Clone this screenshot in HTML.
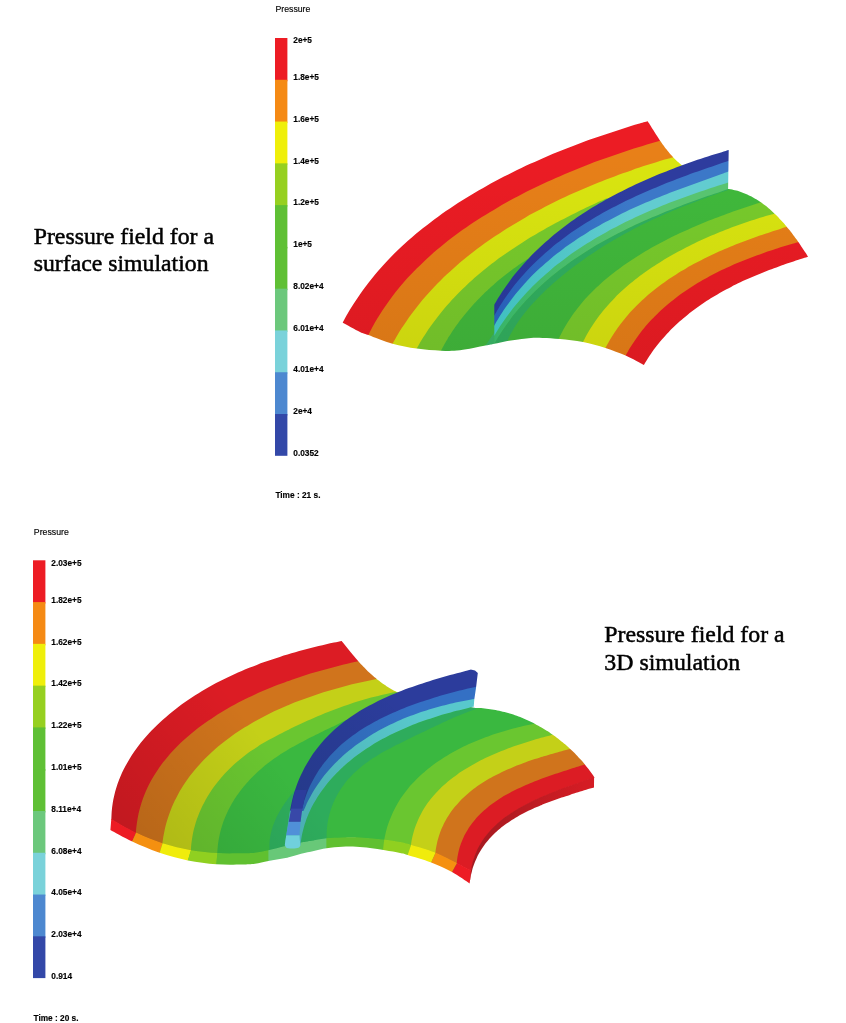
<!DOCTYPE html>
<html><head><meta charset="utf-8"><title>Pressure field</title>
<style>
html,body{margin:0;padding:0;background:#fff;}
body{width:846px;height:1023px;overflow:hidden;position:relative;}
svg{position:absolute;left:0;top:0;}
.lb{font-family:"Liberation Sans",sans-serif;font-weight:bold;font-size:8.3px;fill:#000;stroke:#000;stroke-width:0.15px;}
.tt{font-family:"Liberation Sans",sans-serif;font-size:8.75px;fill:#000;stroke:#000;stroke-width:0.15px;}
.cap{font-family:"Liberation Serif",serif;font-size:23px;fill:#000;stroke:#000;stroke-width:0.5px;}
</style></head><body>
<svg width="846" height="1023" viewBox="0 0 846 1023">
<g opacity="0.999">
<clipPath id="tfo"><path d="M342.7,322.7 C343.5,321.3 345.8,316.9 347.4,314.1 C349.0,311.3 350.7,308.5 352.4,305.8 C354.1,303.0 355.9,300.3 357.7,297.7 C359.5,295.0 361.3,292.4 363.2,289.8 C365.1,287.2 367.0,284.7 368.9,282.2 C370.9,279.6 372.9,277.2 374.9,274.7 C377.0,272.3 379.1,269.9 381.2,267.5 C383.3,265.1 385.4,262.8 387.6,260.5 C389.8,258.2 392.0,255.9 394.3,253.6 C396.5,251.4 398.8,249.2 401.1,247.0 C403.5,244.8 405.8,242.7 408.2,240.6 C410.6,238.5 413.0,236.4 415.4,234.3 C417.9,232.3 420.3,230.3 422.8,228.3 C425.3,226.3 427.8,224.3 430.4,222.4 C432.9,220.4 435.5,218.5 438.1,216.7 C440.7,214.8 443.3,212.9 445.9,211.1 C448.6,209.3 451.2,207.5 453.9,205.7 C456.6,204.0 459.3,202.2 462.0,200.5 C464.7,198.8 467.5,197.1 470.2,195.4 C473.0,193.7 475.8,192.1 478.5,190.5 C481.3,188.9 484.1,187.3 487.0,185.7 C489.8,184.1 492.6,182.6 495.5,181.0 C498.3,179.5 501.2,178.0 504.0,176.5 C506.9,175.1 509.8,173.6 512.7,172.2 C515.6,170.7 518.5,169.3 521.4,167.9 C524.3,166.6 527.3,165.2 530.2,163.8 C533.2,162.5 536.1,161.2 539.1,159.9 C542.0,158.6 545.0,157.3 548.0,156.0 C551.0,154.8 554.0,153.5 556.9,152.3 C559.9,151.1 562.9,149.9 565.9,148.7 C568.9,147.5 572.0,146.4 575.0,145.2 C578.0,144.1 581.0,142.9 584.0,141.8 C587.0,140.7 590.1,139.6 593.1,138.6 C596.1,137.5 599.2,136.5 602.2,135.4 C605.2,134.4 608.3,133.4 611.3,132.4 C614.3,131.4 617.4,130.4 620.4,129.4 C623.4,128.5 626.5,127.5 629.5,126.6 C632.5,125.6 635.5,124.7 638.6,123.8 C641.6,122.9 646.1,121.6 647.6,121.2 L647.7,121.2 C647.8,121.4 648.2,122.0 648.4,122.4 C648.7,122.8 648.9,123.2 649.2,123.6 C649.4,124.0 649.7,124.4 649.9,124.8 C650.2,125.2 650.4,125.6 650.7,126.0 C650.9,126.4 651.2,126.8 651.4,127.2 C651.7,127.6 651.9,128.0 652.2,128.4 C652.4,128.8 652.7,129.2 652.9,129.6 C653.2,130.0 653.4,130.4 653.7,130.8 C653.9,131.2 654.2,131.6 654.4,132.0 C654.7,132.4 655.0,132.8 655.2,133.2 C655.5,133.6 655.7,134.0 656.0,134.4 C656.2,134.8 656.5,135.2 656.7,135.6 C657.0,136.0 657.3,136.4 657.5,136.8 C657.8,137.2 658.0,137.6 658.3,138.0 C658.6,138.4 658.8,138.8 659.1,139.2 C659.4,139.6 659.6,140.0 659.9,140.4 C660.2,140.8 660.4,141.2 660.7,141.6 C661.0,142.0 661.2,142.4 661.5,142.7 C661.8,143.1 662.1,143.5 662.3,143.9 C662.6,144.3 662.9,144.7 663.2,145.1 C663.4,145.5 663.7,145.8 664.0,146.2 C664.3,146.6 664.6,147.0 664.9,147.4 C665.1,147.7 665.4,148.1 665.7,148.5 C666.0,148.9 666.3,149.2 666.6,149.6 C666.9,150.0 667.2,150.4 667.5,150.7 C667.8,151.1 668.1,151.5 668.4,151.8 C668.7,152.2 669.0,152.6 669.3,152.9 C669.6,153.3 669.9,153.6 670.2,154.0 C670.5,154.4 670.8,154.7 671.1,155.1 C671.5,155.4 671.8,155.8 672.1,156.1 C672.4,156.5 672.7,156.8 673.1,157.2 C673.4,157.5 673.7,157.8 674.0,158.2 C674.4,158.5 674.7,158.9 675.0,159.2 C675.4,159.5 675.7,159.9 676.1,160.2 C676.4,160.5 676.7,160.8 677.1,161.2 C677.4,161.5 677.8,161.8 678.1,162.1 C678.5,162.4 678.9,162.8 679.2,163.1 C679.6,163.4 679.9,163.7 680.3,164.0 C680.7,164.3 681.2,164.7 681.4,164.9 L681.4,164.9 L728.0,188.9 L728.0,188.9 C728.5,188.9 729.9,189.1 730.8,189.3 C731.7,189.5 732.6,189.7 733.5,189.9 C734.4,190.1 735.3,190.3 736.2,190.6 C737.1,190.8 738.0,191.1 738.9,191.3 C739.7,191.6 740.6,191.9 741.5,192.2 C742.3,192.5 743.2,192.8 744.0,193.2 C744.9,193.5 745.7,193.9 746.6,194.2 C747.4,194.6 748.2,195.0 749.0,195.4 C749.9,195.8 750.7,196.2 751.5,196.6 C752.3,197.0 753.1,197.5 753.9,197.9 C754.7,198.4 755.5,198.8 756.3,199.3 C757.0,199.8 757.8,200.3 758.6,200.8 C759.3,201.3 760.1,201.8 760.9,202.3 C761.6,202.8 762.4,203.4 763.1,203.9 C763.8,204.5 764.6,205.0 765.3,205.6 C766.0,206.2 766.8,206.7 767.5,207.3 C768.2,207.9 768.9,208.5 769.6,209.1 C770.3,209.7 771.0,210.3 771.7,211.0 C772.4,211.6 773.1,212.2 773.8,212.9 C774.5,213.5 775.1,214.2 775.8,214.8 C776.5,215.5 777.1,216.1 777.8,216.8 C778.4,217.5 779.1,218.2 779.7,218.9 C780.4,219.5 781.0,220.2 781.7,220.9 C782.3,221.6 782.9,222.3 783.6,223.1 C784.2,223.8 784.8,224.5 785.4,225.2 C786.0,225.9 786.6,226.6 787.2,227.4 C787.8,228.1 788.4,228.8 789.0,229.6 C789.6,230.3 790.2,231.1 790.8,231.8 C791.3,232.5 791.9,233.3 792.5,234.0 C793.1,234.8 793.6,235.5 794.2,236.3 C794.7,237.1 795.3,237.8 795.8,238.6 C796.4,239.3 796.9,240.1 797.5,240.8 C798.0,241.6 798.6,242.4 799.1,243.1 C799.6,243.9 800.1,244.7 800.7,245.4 C801.2,246.2 801.7,246.9 802.2,247.7 C802.7,248.5 803.2,249.2 803.7,250.0 C804.2,250.8 804.7,251.5 805.2,252.3 C805.7,253.0 806.2,253.8 806.7,254.5 C807.1,255.3 807.9,256.4 808.1,256.8 L808.1,256.8 C807.3,257.0 804.8,257.8 803.2,258.3 C801.6,258.8 800.0,259.3 798.4,259.8 C796.7,260.3 795.1,260.9 793.5,261.4 C791.9,261.9 790.2,262.5 788.6,263.0 C787.0,263.6 785.4,264.1 783.7,264.7 C782.1,265.3 780.5,265.8 778.9,266.4 C777.2,267.0 775.6,267.6 774.0,268.2 C772.4,268.8 770.7,269.4 769.1,270.0 C767.5,270.6 765.9,271.3 764.3,271.9 C762.7,272.5 761.1,273.2 759.5,273.9 C757.8,274.5 756.2,275.2 754.6,275.9 C753.0,276.5 751.5,277.2 749.9,277.9 C748.3,278.6 746.7,279.4 745.1,280.1 C743.5,280.8 742.0,281.5 740.4,282.3 C738.8,283.0 737.3,283.8 735.7,284.6 C734.2,285.3 732.6,286.1 731.1,286.9 C729.5,287.7 728.0,288.5 726.5,289.3 C724.9,290.1 723.4,291.0 721.9,291.8 C720.4,292.6 718.9,293.5 717.4,294.4 C715.9,295.2 714.4,296.1 713.0,297.0 C711.5,297.9 710.0,298.8 708.6,299.8 C707.1,300.7 705.7,301.6 704.3,302.6 C702.8,303.5 701.4,304.5 700.0,305.5 C698.6,306.4 697.2,307.4 695.8,308.5 C694.4,309.5 693.1,310.5 691.7,311.5 C690.3,312.6 689.0,313.6 687.7,314.7 C686.3,315.8 685.0,316.9 683.7,318.0 C682.4,319.1 681.1,320.2 679.8,321.3 C678.5,322.4 677.3,323.6 676.0,324.8 C674.8,325.9 673.6,327.1 672.3,328.3 C671.1,329.5 669.9,330.7 668.8,332.0 C667.6,333.2 666.4,334.5 665.3,335.7 C664.1,337.0 663.0,338.3 661.9,339.6 C660.7,340.9 659.6,342.2 658.6,343.6 C657.5,344.9 656.4,346.3 655.4,347.6 C654.4,349.0 653.3,350.4 652.3,351.8 C651.3,353.3 650.3,354.7 649.4,356.1 C648.4,357.6 647.5,359.1 646.6,360.6 C645.6,362.1 644.3,364.3 643.9,365.1 L643.9,365.1 C640.9,363.5 632.0,358.5 625.6,355.6 C619.2,352.7 612.6,350.2 605.5,347.9 C598.4,345.6 590.6,343.5 583.0,342.0 C575.4,340.5 566.7,339.7 560.0,339.0 C553.3,338.3 547.6,338.1 542.7,337.9 C537.9,337.7 534.4,337.7 530.9,337.9 C527.4,338.1 525.4,338.4 521.5,338.9 C517.6,339.4 511.8,340.1 507.3,340.9 C502.8,341.7 498.0,343.0 494.3,343.8 C490.6,344.6 491.1,344.5 485.4,345.6 C479.7,346.7 467.4,349.5 460.0,350.3 C452.6,351.1 448.2,351.0 441.0,350.7 C433.8,350.4 424.8,349.8 416.7,348.6 C408.6,347.5 400.6,346.1 392.5,343.8 C384.4,341.5 373.7,337.0 368.3,335.0 C362.9,333.0 364.2,334.1 360.0,332.0 C355.8,329.9 345.7,324.2 342.8,322.7 Z"/></clipPath>
<g clip-path="url(#tfo)"><g opacity="0.999">
<rect x="300" y="90" width="560" height="340" fill="#40BA3C"/>
<path d="M494.3,343.8 C494.9,342.7 496.8,339.5 498.1,337.3 C499.4,335.2 500.7,333.1 502.1,331.0 C503.5,328.9 504.9,326.9 506.3,324.9 C507.7,322.9 509.2,320.9 510.6,318.9 C512.1,316.9 513.6,315.0 515.2,313.1 C516.7,311.2 518.3,309.3 519.8,307.5 C521.4,305.6 523.0,303.8 524.7,302.0 C526.3,300.2 528.0,298.4 529.7,296.7 C531.4,294.9 533.1,293.2 534.8,291.5 C536.5,289.8 538.3,288.1 540.1,286.5 C541.9,284.8 543.7,283.2 545.5,281.6 C547.3,280.0 549.2,278.4 551.0,276.8 C552.9,275.3 554.8,273.8 556.7,272.2 C558.6,270.7 560.5,269.2 562.5,267.8 C564.4,266.3 566.4,264.9 568.3,263.4 C570.3,262.0 572.3,260.6 574.3,259.2 C576.3,257.9 578.4,256.5 580.4,255.2 C582.5,253.8 584.5,252.5 586.6,251.2 C588.7,249.9 590.8,248.6 592.9,247.3 C595.0,246.1 597.1,244.8 599.2,243.6 C601.3,242.4 603.5,241.2 605.6,240.0 C607.8,238.8 610.0,237.6 612.1,236.5 C614.3,235.3 616.5,234.2 618.7,233.0 C620.9,231.9 623.1,230.8 625.3,229.7 C627.6,228.6 629.8,227.5 632.0,226.5 C634.3,225.4 636.5,224.4 638.8,223.3 C641.0,222.3 643.3,221.3 645.5,220.3 C647.8,219.3 650.1,218.3 652.3,217.3 C654.6,216.3 656.9,215.4 659.2,214.4 C661.5,213.5 663.7,212.5 666.0,211.6 C668.3,210.7 670.6,209.8 672.9,208.9 C675.2,208.0 677.5,207.1 679.8,206.2 C682.1,205.3 684.4,204.5 686.7,203.6 C689.0,202.7 691.4,201.9 693.7,201.1 C696.0,200.2 698.3,199.4 700.6,198.6 C702.9,197.7 705.2,196.9 707.5,196.1 C709.8,195.3 712.1,194.5 714.4,193.7 C716.7,193.0 719.0,192.2 721.2,191.4 C723.5,190.6 727.0,189.5 728.1,189.1 L728.0,190.0 C726.9,190.4 723.6,191.5 721.3,192.3 C719.1,193.1 716.9,193.9 714.7,194.7 C712.5,195.4 710.3,196.2 708.1,197.0 C705.9,197.8 703.7,198.7 701.5,199.5 C699.3,200.3 697.1,201.1 694.9,202.0 C692.7,202.8 690.5,203.6 688.4,204.5 C686.2,205.3 684.0,206.2 681.8,207.1 C679.7,208.0 677.5,208.8 675.4,209.7 C673.2,210.6 671.1,211.5 668.9,212.5 C666.8,213.4 664.6,214.3 662.5,215.2 C660.4,216.2 658.2,217.1 656.1,218.1 C654.0,219.1 651.9,220.1 649.8,221.1 C647.7,222.1 645.6,223.1 643.5,224.1 C641.4,225.1 639.3,226.2 637.2,227.2 C635.1,228.3 633.0,229.3 631.0,230.4 C628.9,231.5 626.9,232.6 624.8,233.7 C622.8,234.9 620.7,236.0 618.7,237.2 C616.6,238.3 614.6,239.5 612.6,240.7 C610.6,241.9 608.6,243.1 606.6,244.3 C604.6,245.5 602.6,246.8 600.6,248.0 C598.6,249.3 596.6,250.6 594.7,251.9 C592.7,253.2 590.8,254.5 588.8,255.8 C586.9,257.1 585.0,258.5 583.1,259.9 C581.1,261.2 579.2,262.6 577.4,264.0 C575.5,265.4 573.6,266.8 571.7,268.3 C569.9,269.7 568.0,271.1 566.2,272.6 C564.4,274.1 562.5,275.6 560.7,277.1 C558.9,278.6 557.1,280.1 555.4,281.6 C553.6,283.2 551.8,284.7 550.1,286.3 C548.4,287.8 546.6,289.4 544.9,291.0 C543.3,292.6 541.6,294.3 539.9,295.9 C538.3,297.6 536.7,299.2 535.1,300.9 C533.5,302.6 531.9,304.4 530.4,306.1 C528.9,307.9 527.4,309.6 525.9,311.4 C524.4,313.2 523.0,315.1 521.6,316.9 C520.3,318.8 518.9,320.7 517.6,322.6 C516.3,324.6 515.1,326.5 513.9,328.5 C512.7,330.5 511.5,332.6 510.4,334.6 C509.3,336.7 507.8,339.9 507.3,341.0 Z" fill="#30B060" />
<path d="M485.2,346.0 L494.6,344.0 L494.6,332.0 Z" fill="#38B868" />
<path d="M437.3,357.8 C437.9,356.6 440.1,352.3 441.0,350.7 C441.9,349.0 442.0,348.8 442.5,347.8 C443.0,346.9 443.5,345.9 444.0,345.0 C444.6,344.0 445.1,343.1 445.6,342.2 C446.2,341.2 446.7,340.3 447.3,339.4 C447.8,338.4 448.4,337.5 449.0,336.6 C449.6,335.7 450.1,334.8 450.7,333.9 C451.3,333.0 451.9,332.0 452.5,331.1 C453.1,330.2 453.7,329.3 454.3,328.5 C454.9,327.6 455.6,326.7 456.2,325.8 C456.8,324.9 457.4,324.0 458.1,323.2 C458.7,322.3 459.4,321.4 460.0,320.6 C460.7,319.7 461.3,318.8 462.0,318.0 C462.7,317.1 463.4,316.3 464.0,315.4 C464.7,314.6 465.4,313.7 466.1,312.9 C466.8,312.1 467.5,311.2 468.2,310.4 C468.9,309.6 469.6,308.8 470.3,307.9 C471.0,307.1 471.8,306.3 472.5,305.5 C473.2,304.7 473.9,303.9 474.7,303.1 C475.4,302.3 476.2,301.5 476.9,300.7 C477.7,299.9 478.4,299.1 479.2,298.4 C479.9,297.6 480.7,296.8 481.5,296.0 C482.2,295.3 483.0,294.5 483.8,293.7 C484.6,293.0 485.3,292.2 486.1,291.5 C486.9,290.7 487.7,290.0 488.5,289.2 C489.3,288.5 490.1,287.8 490.9,287.0 C491.7,286.3 492.5,285.6 493.4,284.9 C494.2,284.1 495.0,283.4 495.8,282.7 C496.6,282.0 497.5,281.3 498.3,280.6 C499.1,279.9 500.0,279.2 500.8,278.5 C501.6,277.8 502.5,277.2 503.3,276.5 C504.2,275.8 505.0,275.1 505.9,274.5 C506.7,273.8 507.6,273.1 508.5,272.5 C509.3,271.8 510.2,271.2 511.1,270.5 C511.9,269.9 512.8,269.2 513.7,268.6 C514.5,268.0 515.4,267.3 516.3,266.7 C517.2,266.1 518.1,265.5 518.9,264.8 C519.8,264.2 520.7,263.6 521.6,263.0 C522.5,262.4 523.4,261.8 524.3,261.2 C525.2,260.6 526.5,259.8 527.0,259.5 L536.1,255.3 L541.4,250.2 L546.8,245.2 L552.3,240.4 L558.0,235.7 L563.8,231.2 L569.7,226.8 L575.7,222.5 L581.8,218.3 L588.0,214.3 L594.2,210.3 L600.6,206.5 L607.1,202.8 L613.6,199.3 L620.2,195.8 L626.8,192.4 L633.5,189.2 L640.3,186.0 L647.1,183.0 L653.9,180.0 L660.8,177.1 L667.7,174.4 L674.6,171.7 L681.6,169.1 L688.5,166.6 L695.5,164.1 L702.5,161.8 L709.4,159.5 L716.3,157.3 L723.3,155.2 L730.2,153.1 L700.0,100.0 L300.0,100.0 L300.0,420.0 L437.3,420.0 Z" fill="#78CC2C" />
<path d="M412.7,355.6 C413.4,354.4 415.5,350.7 416.7,348.6 C417.9,346.5 418.8,344.9 419.8,343.0 C420.9,341.2 422.0,339.4 423.1,337.6 C424.3,335.8 425.4,334.0 426.6,332.2 C427.7,330.5 428.9,328.7 430.1,327.0 C431.3,325.3 432.6,323.6 433.8,321.9 C435.1,320.2 436.3,318.5 437.6,316.9 C438.9,315.2 440.2,313.6 441.5,311.9 C442.9,310.3 444.2,308.7 445.6,307.1 C446.9,305.5 448.3,304.0 449.7,302.4 C451.1,300.8 452.5,299.3 454.0,297.8 C455.4,296.3 456.9,294.8 458.3,293.3 C459.8,291.8 461.3,290.3 462.8,288.8 C464.3,287.4 465.8,285.9 467.3,284.5 C468.8,283.1 470.4,281.7 472.0,280.3 C473.5,278.9 475.1,277.5 476.7,276.1 C478.3,274.7 479.9,273.4 481.5,272.0 C483.1,270.7 484.7,269.4 486.4,268.0 C488.0,266.7 489.7,265.4 491.3,264.1 C493.0,262.9 494.7,261.6 496.4,260.3 C498.0,259.1 499.7,257.8 501.5,256.6 C503.2,255.4 504.9,254.1 506.6,252.9 C508.3,251.7 510.1,250.5 511.8,249.4 C513.6,248.2 515.4,247.0 517.1,245.9 C518.9,244.7 520.7,243.5 522.5,242.4 C524.2,241.3 526.0,240.2 527.8,239.1 C529.6,237.9 531.4,236.9 533.3,235.8 C535.1,234.7 536.9,233.6 538.7,232.5 C540.6,231.5 542.4,230.4 544.2,229.4 C546.1,228.3 547.9,227.3 549.8,226.3 C551.6,225.3 553.5,224.3 555.3,223.3 C557.2,222.3 559.1,221.3 560.9,220.3 C562.8,219.3 564.7,218.3 566.5,217.4 C568.4,216.4 570.3,215.5 572.2,214.5 C574.1,213.6 575.9,212.7 577.8,211.7 C579.7,210.8 581.6,209.9 583.5,209.0 C585.4,208.1 587.3,207.2 589.1,206.3 C591.0,205.4 592.9,204.5 594.8,203.7 C596.7,202.8 598.6,201.9 600.5,201.1 C602.4,200.2 605.2,199.0 606.1,198.5 L613.6,199.3 L620.2,195.8 L626.8,192.4 L633.5,189.2 L640.3,186.0 L647.1,183.0 L653.9,180.0 L660.8,177.1 L667.7,174.4 L674.6,171.7 L681.6,169.1 L688.5,166.6 L695.5,164.1 L702.5,161.8 L709.4,159.5 L716.3,157.3 L723.3,155.2 L730.2,153.1 L700.0,100.0 L300.0,100.0 L300.0,420.0 L412.7,420.0 Z" fill="#DAE610" />
<path d="M388.5,350.8 C389.2,349.6 391.1,346.3 392.5,343.8 C393.9,341.3 395.4,338.6 396.9,336.0 C398.5,333.4 400.0,330.9 401.6,328.3 C403.2,325.8 404.9,323.4 406.6,320.9 C408.2,318.5 409.9,316.1 411.7,313.7 C413.5,311.3 415.2,309.0 417.1,306.7 C418.9,304.4 420.8,302.1 422.6,299.8 C424.5,297.6 426.5,295.4 428.4,293.2 C430.4,291.0 432.4,288.9 434.4,286.7 C436.4,284.6 438.5,282.5 440.6,280.5 C442.6,278.4 444.7,276.4 446.9,274.3 C449.0,272.3 451.2,270.4 453.4,268.4 C455.6,266.5 457.8,264.5 460.0,262.6 C462.3,260.7 464.5,258.9 466.8,257.0 C469.1,255.2 471.4,253.4 473.8,251.6 C476.1,249.8 478.5,248.0 480.8,246.3 C483.2,244.5 485.6,242.8 488.0,241.1 C490.4,239.4 492.9,237.7 495.3,236.1 C497.8,234.4 500.3,232.8 502.7,231.2 C505.2,229.6 507.7,228.0 510.3,226.5 C512.8,224.9 515.3,223.4 517.9,221.9 C520.4,220.4 523.0,218.9 525.5,217.4 C528.1,215.9 530.7,214.5 533.3,213.1 C535.9,211.6 538.5,210.2 541.2,208.9 C543.8,207.5 546.4,206.1 549.1,204.8 C551.7,203.4 554.4,202.1 557.1,200.8 C559.8,199.5 562.4,198.2 565.1,197.0 C567.8,195.7 570.5,194.5 573.2,193.3 C576.0,192.0 578.7,190.8 581.4,189.7 C584.1,188.5 586.9,187.3 589.6,186.2 C592.4,185.0 595.1,183.9 597.9,182.8 C600.6,181.7 603.4,180.6 606.1,179.5 C608.9,178.5 611.7,177.4 614.5,176.4 C617.2,175.4 620.0,174.3 622.8,173.3 C625.6,172.3 628.4,171.4 631.2,170.4 C633.9,169.4 636.7,168.5 639.5,167.6 C642.3,166.6 645.1,165.7 647.9,164.8 C650.7,163.9 653.5,163.0 656.3,162.2 C659.1,161.3 661.9,160.5 664.7,159.6 C667.5,158.8 670.4,158.0 673.1,157.2 C675.7,156.4 679.5,155.3 680.7,154.9 L700.0,100.0 L300.0,100.0 L300.0,420.0 L388.5,420.0 Z" fill="#E88018" />
<path d="M364.6,342.1 C365.2,340.9 366.9,337.6 368.3,335.0 C369.6,332.4 371.1,329.4 372.6,326.7 C374.1,324.0 375.7,321.3 377.3,318.6 C378.9,316.0 380.5,313.4 382.2,310.8 C383.9,308.2 385.6,305.7 387.4,303.2 C389.1,300.7 391.0,298.2 392.8,295.8 C394.7,293.3 396.6,290.9 398.5,288.6 C400.4,286.2 402.4,283.9 404.4,281.6 C406.4,279.3 408.5,277.0 410.6,274.8 C412.7,272.6 414.8,270.4 416.9,268.2 C419.1,266.1 421.3,264.0 423.5,261.9 C425.7,259.8 428.0,257.7 430.2,255.7 C432.5,253.6 434.8,251.6 437.2,249.6 C439.5,247.7 441.9,245.7 444.3,243.8 C446.7,241.9 449.1,240.0 451.5,238.1 C454.0,236.3 456.4,234.4 458.9,232.6 C461.4,230.8 463.9,229.0 466.5,227.3 C469.0,225.5 471.6,223.8 474.1,222.1 C476.7,220.4 479.3,218.7 481.9,217.1 C484.5,215.4 487.1,213.8 489.8,212.2 C492.4,210.6 495.1,209.0 497.8,207.4 C500.4,205.9 503.1,204.3 505.8,202.8 C508.5,201.3 511.2,199.8 514.0,198.3 C516.7,196.9 519.4,195.4 522.2,194.0 C525.0,192.6 527.7,191.2 530.5,189.8 C533.3,188.4 536.1,187.1 538.9,185.7 C541.7,184.4 544.5,183.1 547.3,181.8 C550.1,180.5 553.0,179.2 555.8,177.9 C558.7,176.7 561.5,175.5 564.4,174.2 C567.2,173.0 570.1,171.8 573.0,170.7 C575.8,169.5 578.7,168.3 581.6,167.2 C584.5,166.0 587.4,164.9 590.3,163.8 C593.1,162.7 596.0,161.6 598.9,160.6 C601.8,159.5 604.7,158.5 607.7,157.4 C610.6,156.4 613.5,155.4 616.4,154.4 C619.3,153.4 622.2,152.4 625.1,151.5 C628.0,150.5 631.0,149.6 633.9,148.6 C636.8,147.7 639.7,146.8 642.6,145.9 C645.5,145.0 648.4,144.1 651.3,143.2 C654.2,142.4 657.3,141.5 660.1,140.7 C662.8,139.9 666.5,138.8 667.7,138.4 L700.0,100.0 L300.0,100.0 L300.0,420.0 L364.6,420.0 Z" fill="#EC1C24" />
<path d="M555.2,346.0 C555.8,344.8 557.6,340.9 558.7,338.8 C559.8,336.6 560.6,334.9 561.6,332.9 C562.6,331.0 563.6,329.1 564.7,327.3 C565.8,325.4 566.9,323.6 568.0,321.8 C569.1,320.0 570.3,318.2 571.5,316.4 C572.7,314.7 574.0,312.9 575.3,311.2 C576.5,309.5 577.8,307.9 579.2,306.2 C580.5,304.5 581.8,302.9 583.2,301.3 C584.6,299.7 586.0,298.1 587.5,296.6 C588.9,295.0 590.4,293.5 591.9,292.0 C593.4,290.5 594.9,289.0 596.4,287.5 C598.0,286.1 599.6,284.6 601.1,283.2 C602.7,281.8 604.3,280.4 606.0,279.0 C607.6,277.6 609.2,276.3 610.9,275.0 C612.6,273.6 614.3,272.3 616.0,271.0 C617.7,269.7 619.4,268.5 621.1,267.2 C622.9,265.9 624.6,264.7 626.4,263.5 C628.2,262.3 629.9,261.1 631.7,259.9 C633.5,258.7 635.3,257.6 637.1,256.4 C639.0,255.3 640.8,254.1 642.6,253.0 C644.5,251.9 646.3,250.8 648.2,249.8 C650.0,248.7 651.9,247.6 653.7,246.6 C655.6,245.5 657.5,244.5 659.4,243.5 C661.3,242.5 663.2,241.5 665.1,240.5 C667.0,239.5 668.9,238.5 670.8,237.6 C672.8,236.6 674.7,235.7 676.6,234.8 C678.5,233.8 680.5,232.9 682.4,232.0 C684.4,231.1 686.3,230.2 688.3,229.4 C690.3,228.5 692.2,227.6 694.2,226.8 C696.2,225.9 698.1,225.1 700.1,224.3 C702.1,223.5 704.1,222.6 706.0,221.8 C708.0,221.0 710.0,220.2 712.0,219.5 C714.0,218.7 716.0,217.9 718.0,217.2 C720.0,216.4 722.0,215.6 724.0,214.9 C726.0,214.2 728.0,213.4 730.0,212.7 C732.0,212.0 734.0,211.3 736.1,210.6 C738.1,209.9 740.1,209.2 742.1,208.5 C744.1,207.8 746.1,207.1 748.1,206.5 C750.1,205.8 752.1,205.1 754.1,204.5 C756.2,203.8 757.9,203.2 760.2,202.5 C762.5,201.8 766.5,200.5 767.8,200.1 L850.0,185.0 L850.0,420.0 L555.2,420.0 Z" fill="#78CC2C" />
<path d="M579.3,349.1 C579.9,347.9 581.9,344.1 583.0,342.0 C584.0,339.9 584.8,338.3 585.8,336.5 C586.8,334.7 587.8,332.9 588.8,331.2 C589.9,329.4 591.0,327.7 592.1,326.0 C593.2,324.3 594.3,322.6 595.4,321.0 C596.6,319.3 597.8,317.7 599.0,316.1 C600.2,314.5 601.4,312.9 602.7,311.3 C604.0,309.8 605.2,308.2 606.6,306.7 C607.9,305.2 609.2,303.7 610.6,302.2 C611.9,300.8 613.3,299.3 614.7,297.9 C616.1,296.4 617.5,295.0 619.0,293.6 C620.4,292.3 621.9,290.9 623.4,289.5 C624.9,288.2 626.4,286.9 627.9,285.5 C629.4,284.2 631.0,282.9 632.6,281.7 C634.1,280.4 635.7,279.1 637.3,277.9 C638.9,276.7 640.5,275.5 642.2,274.3 C643.8,273.1 645.4,271.9 647.1,270.7 C648.8,269.6 650.4,268.4 652.1,267.3 C653.8,266.2 655.5,265.1 657.2,264.0 C658.9,262.9 660.7,261.8 662.4,260.7 C664.2,259.7 665.9,258.6 667.7,257.6 C669.4,256.5 671.2,255.5 673.0,254.5 C674.8,253.5 676.6,252.5 678.4,251.6 C680.1,250.6 682.0,249.6 683.8,248.7 C685.6,247.7 687.4,246.8 689.2,245.9 C691.1,245.0 692.9,244.1 694.7,243.2 C696.6,242.3 698.4,241.4 700.3,240.6 C702.1,239.7 704.0,238.9 705.9,238.0 C707.7,237.2 709.6,236.4 711.5,235.6 C713.3,234.8 715.2,234.0 717.1,233.2 C719.0,232.4 720.9,231.6 722.8,230.9 C724.7,230.1 726.6,229.4 728.5,228.7 C730.4,227.9 732.3,227.2 734.2,226.5 C736.1,225.8 738.0,225.1 739.9,224.4 C741.8,223.8 743.7,223.1 745.6,222.5 C747.5,221.8 749.4,221.2 751.4,220.6 C753.3,219.9 755.2,219.3 757.1,218.7 C759.0,218.1 760.9,217.5 762.9,217.0 C764.8,216.4 766.7,215.8 768.6,215.3 C770.5,214.7 772.1,214.3 774.4,213.7 C776.6,213.0 780.8,211.9 782.1,211.5 L850.0,185.0 L850.0,420.0 L579.3,420.0 Z" fill="#DAE610" />
<path d="M601.7,354.9 C602.3,353.8 604.4,349.9 605.5,347.9 C606.6,345.9 607.3,344.4 608.3,342.7 C609.2,341.0 610.2,339.4 611.2,337.7 C612.3,336.0 613.3,334.4 614.4,332.8 C615.4,331.2 616.5,329.6 617.6,328.0 C618.7,326.5 619.9,324.9 621.0,323.4 C622.2,321.9 623.4,320.4 624.6,318.9 C625.8,317.5 627.0,316.0 628.3,314.6 C629.5,313.1 630.8,311.7 632.1,310.3 C633.4,309.0 634.7,307.6 636.0,306.2 C637.3,304.9 638.7,303.6 640.1,302.2 C641.4,300.9 642.8,299.6 644.2,298.4 C645.6,297.1 647.0,295.9 648.5,294.6 C649.9,293.4 651.4,292.2 652.9,291.0 C654.3,289.8 655.8,288.6 657.3,287.5 C658.8,286.3 660.4,285.1 661.9,284.0 C663.4,282.9 665.0,281.8 666.5,280.7 C668.1,279.6 669.7,278.5 671.3,277.5 C672.9,276.4 674.5,275.4 676.1,274.4 C677.7,273.3 679.4,272.3 681.0,271.3 C682.6,270.3 684.3,269.4 686.0,268.4 C687.6,267.4 689.3,266.5 691.0,265.6 C692.7,264.6 694.4,263.7 696.1,262.8 C697.8,261.9 699.5,261.0 701.2,260.2 C702.9,259.3 704.6,258.4 706.4,257.6 C708.1,256.7 709.9,255.9 711.6,255.1 C713.4,254.2 715.1,253.4 716.9,252.6 C718.6,251.8 720.4,251.0 722.2,250.3 C724.0,249.5 725.7,248.7 727.5,248.0 C729.3,247.2 731.1,246.5 732.9,245.8 C734.7,245.0 736.5,244.3 738.3,243.6 C740.1,242.9 741.9,242.2 743.7,241.5 C745.5,240.8 747.3,240.2 749.1,239.5 C750.9,238.8 752.7,238.2 754.5,237.5 C756.3,236.9 758.1,236.3 759.9,235.6 C761.7,235.0 763.5,234.4 765.3,233.8 C767.1,233.1 768.9,232.5 770.7,231.9 C772.5,231.3 774.3,230.8 776.1,230.2 C777.9,229.6 779.7,229.0 781.4,228.4 C783.2,227.9 784.6,227.4 786.8,226.8 C789.0,226.1 793.1,224.8 794.4,224.4 L850.0,185.0 L850.0,420.0 L601.7,420.0 Z" fill="#E88018" />
<path d="M621.7,362.6 C622.3,361.4 624.5,357.6 625.6,355.6 C626.7,353.6 627.4,352.3 628.3,350.7 C629.2,349.1 630.2,347.5 631.2,346.0 C632.2,344.4 633.2,342.9 634.2,341.4 C635.2,339.8 636.3,338.3 637.3,336.9 C638.4,335.4 639.5,333.9 640.6,332.5 C641.7,331.1 642.8,329.6 644.0,328.3 C645.1,326.9 646.3,325.5 647.5,324.1 C648.7,322.8 649.9,321.4 651.1,320.1 C652.4,318.8 653.6,317.5 654.9,316.2 C656.1,314.9 657.4,313.7 658.7,312.4 C660.0,311.2 661.4,310.0 662.7,308.8 C664.0,307.6 665.4,306.4 666.7,305.2 C668.1,304.0 669.5,302.9 670.9,301.7 C672.3,300.6 673.7,299.5 675.1,298.4 C676.6,297.3 678.0,296.2 679.5,295.1 C680.9,294.1 682.4,293.0 683.9,292.0 C685.4,291.0 686.9,289.9 688.4,288.9 C689.9,287.9 691.4,287.0 693.0,286.0 C694.5,285.0 696.0,284.1 697.6,283.1 C699.2,282.2 700.7,281.3 702.3,280.3 C703.9,279.4 705.5,278.5 707.1,277.7 C708.7,276.8 710.3,275.9 711.9,275.1 C713.5,274.2 715.1,273.4 716.8,272.6 C718.4,271.7 720.0,270.9 721.7,270.1 C723.3,269.3 725.0,268.6 726.7,267.8 C728.3,267.0 730.0,266.3 731.7,265.5 C733.4,264.8 735.0,264.0 736.7,263.3 C738.4,262.6 740.1,261.9 741.8,261.2 C743.5,260.5 745.2,259.8 746.9,259.2 C748.6,258.5 750.3,257.8 752.0,257.2 C753.8,256.5 755.5,255.9 757.2,255.3 C758.9,254.6 760.6,254.0 762.4,253.4 C764.1,252.8 765.8,252.2 767.5,251.6 C769.3,251.0 771.0,250.5 772.7,249.9 C774.5,249.3 776.2,248.8 777.9,248.2 C779.6,247.7 781.4,247.2 783.1,246.6 C784.8,246.1 786.5,245.6 788.3,245.1 C790.0,244.6 791.7,244.1 793.4,243.6 C795.2,243.1 796.4,242.7 798.6,242.1 C800.7,241.5 805.0,240.3 806.3,240.0 L850.0,185.0 L850.0,420.0 L621.7,420.0 Z" fill="#EC1C24" />
<linearGradient id="tsh" gradientUnits="userSpaceOnUse" x1="0" y1="150" x2="0" y2="355"><stop offset="0" stop-color="#200800" stop-opacity="0"/><stop offset="1" stop-color="#200800" stop-opacity="0.08"/></linearGradient>
<rect x="300" y="90" width="560" height="340" fill="url(#tsh)"/>
</g></g>
<clipPath id="tbl"><path d="M494.3,304.8 C494.9,303.7 496.8,300.5 498.0,298.3 C499.3,296.2 500.7,294.1 502.0,292.0 C503.4,290.0 504.8,287.9 506.2,285.9 C507.6,283.9 509.1,281.9 510.5,279.9 C512.0,277.9 513.5,276.0 515.0,274.1 C516.6,272.2 518.1,270.3 519.7,268.4 C521.3,266.5 522.9,264.7 524.5,262.9 C526.2,261.1 527.8,259.3 529.5,257.5 C531.2,255.7 532.9,254.0 534.6,252.3 C536.4,250.6 538.1,248.9 539.9,247.2 C541.7,245.5 543.5,243.9 545.3,242.2 C547.1,240.6 549.0,239.0 550.8,237.4 C552.7,235.8 554.6,234.3 556.5,232.7 C558.4,231.2 560.3,229.7 562.3,228.2 C564.2,226.7 566.2,225.2 568.2,223.8 C570.1,222.3 572.1,220.9 574.2,219.5 C576.2,218.1 578.2,216.7 580.3,215.3 C582.3,213.9 584.4,212.6 586.5,211.3 C588.5,209.9 590.6,208.6 592.7,207.3 C594.8,206.1 597.0,204.8 599.1,203.5 C601.2,202.3 603.4,201.1 605.6,199.8 C607.7,198.6 609.9,197.4 612.1,196.3 C614.3,195.1 616.5,193.9 618.7,192.8 C620.9,191.7 623.1,190.5 625.3,189.4 C627.5,188.3 629.8,187.2 632.0,186.2 C634.3,185.1 636.5,184.1 638.8,183.0 C641.0,182.0 643.3,181.0 645.6,180.0 C647.9,179.0 650.1,178.0 652.4,177.0 C654.7,176.0 657.0,175.1 659.3,174.1 C661.6,173.2 663.9,172.3 666.2,171.4 C668.5,170.4 670.8,169.6 673.1,168.7 C675.4,167.8 677.8,166.9 680.1,166.1 C682.4,165.2 684.7,164.4 687.0,163.6 C689.4,162.7 691.7,161.9 694.0,161.1 C696.3,160.3 698.6,159.5 701.0,158.8 C703.3,158.0 705.6,157.2 707.9,156.5 C710.2,155.7 712.5,155.0 714.8,154.3 C717.2,153.6 719.5,152.9 721.8,152.2 C724.1,151.5 727.5,150.4 728.7,150.1 L728.7,150.1 L728.1,189.1 L728.1,189.1 C727.0,189.5 723.5,190.6 721.2,191.4 C719.0,192.2 716.7,193.0 714.4,193.7 C712.1,194.5 709.8,195.3 707.5,196.1 C705.2,196.9 702.9,197.7 700.6,198.6 C698.3,199.4 696.0,200.2 693.7,201.1 C691.4,201.9 689.0,202.7 686.7,203.6 C684.4,204.5 682.1,205.3 679.8,206.2 C677.5,207.1 675.2,208.0 672.9,208.9 C670.6,209.8 668.3,210.7 666.0,211.6 C663.7,212.5 661.5,213.5 659.2,214.4 C656.9,215.4 654.6,216.3 652.3,217.3 C650.1,218.3 647.8,219.3 645.5,220.3 C643.3,221.3 641.0,222.3 638.8,223.3 C636.5,224.4 634.3,225.4 632.0,226.5 C629.8,227.5 627.6,228.6 625.3,229.7 C623.1,230.8 620.9,231.9 618.7,233.0 C616.5,234.2 614.3,235.3 612.1,236.5 C610.0,237.6 607.8,238.8 605.6,240.0 C603.5,241.2 601.3,242.4 599.2,243.6 C597.1,244.8 595.0,246.1 592.9,247.3 C590.8,248.6 588.7,249.9 586.6,251.2 C584.5,252.5 582.5,253.8 580.4,255.2 C578.4,256.5 576.3,257.9 574.3,259.2 C572.3,260.6 570.3,262.0 568.3,263.4 C566.4,264.9 564.4,266.3 562.5,267.8 C560.5,269.2 558.6,270.7 556.7,272.2 C554.8,273.8 552.9,275.3 551.0,276.8 C549.2,278.4 547.3,280.0 545.5,281.6 C543.7,283.2 541.9,284.8 540.1,286.5 C538.3,288.1 536.5,289.8 534.8,291.5 C533.1,293.2 531.4,294.9 529.7,296.7 C528.0,298.4 526.3,300.2 524.7,302.0 C523.0,303.8 521.4,305.6 519.8,307.5 C518.3,309.3 516.7,311.2 515.2,313.1 C513.6,315.0 512.1,316.9 510.6,318.9 C509.2,320.9 507.7,322.9 506.3,324.9 C504.9,326.9 503.5,328.9 502.1,331.0 C500.7,333.1 499.4,335.2 498.1,337.3 C496.8,339.5 494.9,342.7 494.3,343.8 Z"/></clipPath>
<g clip-path="url(#tbl)"><g opacity="0.999">
<linearGradient id="tg_t" gradientUnits="userSpaceOnUse" x1="496" y1="0" x2="630" y2="0"><stop offset="0" stop-color="#38B468"/><stop offset="1" stop-color="#58C470"/></linearGradient>
<linearGradient id="tg_c" gradientUnits="userSpaceOnUse" x1="496" y1="0" x2="630" y2="0"><stop offset="0" stop-color="#40C0C0"/><stop offset="1" stop-color="#62CCD0"/></linearGradient>
<linearGradient id="tg_b" gradientUnits="userSpaceOnUse" x1="496" y1="0" x2="630" y2="0"><stop offset="0" stop-color="#2860B8"/><stop offset="1" stop-color="#3C78C8"/></linearGradient>
<linearGradient id="tg_db" gradientUnits="userSpaceOnUse" x1="496" y1="0" x2="630" y2="0"><stop offset="0" stop-color="#283898"/><stop offset="1" stop-color="#2E3C9E"/></linearGradient>
<rect x="470" y="100" width="300" height="300" fill="url(#tg_t)"/>
<path d="M489.1,344.2 C489.9,342.7 492.8,338.1 494.3,335.6 C495.8,333.1 496.9,331.3 498.2,329.2 C499.5,327.1 500.9,325.1 502.3,323.0 C503.7,321.0 505.1,318.9 506.5,316.9 C508.0,315.0 509.5,313.0 511.0,311.0 C512.4,309.1 514.0,307.2 515.5,305.3 C517.1,303.4 518.6,301.5 520.2,299.7 C521.8,297.9 523.5,296.1 525.1,294.3 C526.8,292.5 528.4,290.7 530.1,289.0 C531.8,287.2 533.5,285.5 535.3,283.8 C537.0,282.1 538.8,280.5 540.6,278.8 C542.3,277.2 544.1,275.6 546.0,274.0 C547.8,272.4 549.6,270.8 551.5,269.2 C553.3,267.7 555.2,266.2 557.1,264.6 C559.0,263.1 560.9,261.6 562.9,260.2 C564.8,258.7 566.8,257.3 568.7,255.8 C570.7,254.4 572.7,253.0 574.7,251.6 C576.7,250.3 578.7,248.9 580.8,247.6 C582.8,246.2 584.8,244.9 586.9,243.6 C589.0,242.3 591.1,241.0 593.1,239.7 C595.2,238.5 597.3,237.2 599.5,236.0 C601.6,234.8 603.7,233.6 605.9,232.4 C608.0,231.2 610.1,230.0 612.3,228.8 C614.5,227.7 616.7,226.6 618.8,225.4 C621.0,224.3 623.2,223.2 625.4,222.1 C627.6,221.0 629.8,220.0 632.1,218.9 C634.3,217.9 636.5,216.8 638.8,215.8 C641.0,214.8 643.3,213.8 645.5,212.8 C647.8,211.8 650.0,210.8 652.3,209.8 C654.6,208.9 656.8,207.9 659.1,207.0 C661.4,206.0 663.7,205.1 665.9,204.2 C668.2,203.3 670.5,202.4 672.8,201.5 C675.1,200.6 677.4,199.8 679.7,198.9 C682.0,198.1 684.3,197.2 686.6,196.4 C688.9,195.6 691.2,194.7 693.5,193.9 C695.8,193.1 698.2,192.3 700.5,191.5 C702.8,190.8 705.1,190.0 707.4,189.2 C709.7,188.5 712.0,187.7 714.3,187.0 C716.6,186.2 718.9,185.5 721.2,184.8 C723.5,184.1 725.4,183.5 728.1,182.6 C730.8,181.8 736.1,180.2 737.7,179.7 L737.7,100.0 L470.0,100.0 L470.0,344.2 Z" fill="url(#tg_c)" />
<path d="M489.3,334.2 C490.1,332.7 492.9,328.0 494.3,325.5 C495.8,323.0 496.8,321.2 498.1,319.1 C499.3,316.9 500.7,314.8 502.0,312.8 C503.4,310.7 504.7,308.7 506.2,306.6 C507.6,304.6 509.0,302.6 510.5,300.7 C512.0,298.7 513.5,296.8 515.0,294.8 C516.5,292.9 518.1,291.0 519.7,289.2 C521.3,287.3 522.9,285.5 524.5,283.7 C526.2,281.9 527.8,280.1 529.5,278.3 C531.2,276.6 533.0,274.8 534.7,273.1 C536.4,271.4 538.2,269.8 540.0,268.1 C541.8,266.4 543.6,264.8 545.4,263.2 C547.3,261.6 549.1,260.0 551.0,258.4 C552.9,256.9 554.8,255.4 556.7,253.8 C558.6,252.3 560.6,250.8 562.5,249.4 C564.5,247.9 566.5,246.5 568.5,245.1 C570.4,243.6 572.5,242.2 574.5,240.9 C576.5,239.5 578.5,238.1 580.6,236.8 C582.7,235.5 584.7,234.2 586.8,232.9 C588.9,231.6 591.0,230.3 593.1,229.1 C595.2,227.8 597.4,226.6 599.5,225.4 C601.6,224.2 603.8,223.0 606.0,221.8 C608.1,220.7 610.3,219.5 612.5,218.4 C614.7,217.2 616.9,216.1 619.1,215.0 C621.3,213.9 623.5,212.9 625.7,211.8 C627.9,210.7 630.2,209.7 632.4,208.6 C634.7,207.6 636.9,206.6 639.2,205.6 C641.4,204.6 643.7,203.6 645.9,202.6 C648.2,201.7 650.5,200.7 652.7,199.8 C655.0,198.8 657.3,197.9 659.6,197.0 C661.9,196.1 664.2,195.2 666.5,194.3 C668.7,193.4 671.0,192.5 673.3,191.6 C675.6,190.7 677.9,189.8 680.2,189.0 C682.5,188.1 684.8,187.3 687.1,186.4 C689.4,185.5 691.7,184.7 694.0,183.9 C696.3,183.0 698.6,182.2 700.9,181.4 C703.2,180.5 705.5,179.7 707.8,178.9 C710.1,178.0 712.4,177.2 714.7,176.4 C717.0,175.6 719.3,174.7 721.6,173.9 C723.8,173.1 725.7,172.4 728.4,171.4 C731.1,170.4 736.2,168.6 737.8,168.0 L737.8,100.0 L470.0,100.0 L470.0,334.2 Z" fill="url(#tg_b)" />
<path d="M489.3,324.2 C490.1,322.8 492.8,318.1 494.3,315.5 C495.8,313.0 496.8,311.2 498.1,309.0 C499.3,306.9 500.7,304.7 502.0,302.7 C503.4,300.6 504.7,298.5 506.2,296.5 C507.6,294.4 509.0,292.4 510.5,290.5 C511.9,288.5 513.4,286.6 515.0,284.6 C516.5,282.7 518.1,280.8 519.6,279.0 C521.2,277.1 522.8,275.3 524.5,273.5 C526.1,271.7 527.8,269.9 529.5,268.1 C531.1,266.4 532.9,264.6 534.6,262.9 C536.3,261.2 538.1,259.5 539.9,257.9 C541.7,256.2 543.5,254.6 545.3,253.0 C547.1,251.4 549.0,249.8 550.9,248.2 C552.7,246.7 554.6,245.1 556.5,243.6 C558.4,242.1 560.4,240.6 562.3,239.2 C564.3,237.7 566.3,236.2 568.2,234.8 C570.2,233.4 572.2,232.0 574.3,230.6 C576.3,229.2 578.3,227.9 580.4,226.5 C582.4,225.2 584.5,223.9 586.6,222.6 C588.7,221.3 590.8,220.0 592.9,218.7 C595.0,217.4 597.2,216.2 599.3,215.0 C601.5,213.7 603.6,212.5 605.8,211.3 C608.0,210.2 610.1,209.0 612.3,207.8 C614.5,206.7 616.7,205.5 618.9,204.4 C621.2,203.3 623.4,202.2 625.6,201.1 C627.8,200.0 630.1,198.9 632.3,197.9 C634.6,196.8 636.8,195.8 639.1,194.8 C641.4,193.7 643.6,192.7 645.9,191.7 C648.2,190.7 650.5,189.7 652.8,188.8 C655.1,187.8 657.3,186.8 659.6,185.9 C661.9,185.0 664.2,184.0 666.5,183.1 C668.8,182.2 671.2,181.3 673.5,180.4 C675.8,179.5 678.1,178.6 680.4,177.7 C682.7,176.9 685.0,176.0 687.3,175.2 C689.6,174.3 691.9,173.5 694.3,172.6 C696.6,171.8 698.9,171.0 701.2,170.2 C703.5,169.4 705.8,168.6 708.1,167.8 C710.4,167.0 712.7,166.2 715.0,165.4 C717.3,164.6 719.6,163.9 721.9,163.1 C724.1,162.3 726.0,161.7 728.7,160.8 C731.4,159.9 736.6,158.2 738.2,157.7 L738.2,100.0 L470.0,100.0 L470.0,324.2 Z" fill="url(#tg_db)" />
</g></g>
<defs><linearGradient id="shade" gradientUnits="userSpaceOnUse" x1="250" y1="720" x2="110" y2="830">
<stop offset="0" stop-color="#000" stop-opacity="0"/><stop offset="1" stop-color="#000" stop-opacity="0.13"/></linearGradient></defs>
<clipPath id="bfo"><path d="M111.3,819.7 C111.4,818.4 111.5,814.2 111.7,811.4 C111.9,808.7 112.3,805.9 112.7,803.3 C113.1,800.6 113.6,798.0 114.3,795.3 C114.9,792.7 115.6,790.2 116.4,787.6 C117.1,785.1 118.0,782.6 119.0,780.1 C119.9,777.7 120.9,775.2 122.0,772.8 C123.1,770.5 124.3,768.1 125.6,765.8 C126.8,763.4 128.1,761.2 129.5,758.9 C130.9,756.7 132.3,754.4 133.8,752.3 C135.3,750.1 136.9,747.9 138.5,745.8 C140.1,743.7 141.8,741.6 143.5,739.6 C145.2,737.6 147.0,735.6 148.8,733.6 C150.6,731.6 152.5,729.7 154.4,727.8 C156.2,725.9 158.2,724.0 160.1,722.2 C162.1,720.4 164.1,718.6 166.1,716.9 C168.2,715.1 170.2,713.4 172.3,711.7 C174.4,710.0 176.5,708.4 178.6,706.8 C180.8,705.2 182.9,703.6 185.1,702.1 C187.3,700.5 189.5,699.0 191.8,697.5 C194.0,696.0 196.3,694.6 198.6,693.2 C200.9,691.8 203.2,690.4 205.5,689.0 C207.8,687.7 210.2,686.4 212.5,685.1 C214.9,683.8 217.3,682.5 219.7,681.3 C222.1,680.1 224.5,678.9 226.9,677.7 C229.4,676.5 231.8,675.4 234.3,674.2 C236.8,673.1 239.2,672.0 241.7,671.0 C244.2,669.9 246.7,668.9 249.2,667.8 C251.7,666.8 254.3,665.8 256.8,664.9 C259.3,663.9 261.9,663.0 264.4,662.1 C267.0,661.2 269.5,660.3 272.1,659.4 C274.7,658.5 277.2,657.7 279.8,656.9 C282.4,656.0 285.0,655.2 287.6,654.5 C290.1,653.7 292.7,652.9 295.3,652.2 C297.9,651.4 300.5,650.7 303.1,650.0 C305.7,649.3 308.2,648.7 310.8,648.0 C313.4,647.3 316.0,646.7 318.6,646.1 C321.2,645.5 323.7,644.9 326.3,644.3 C328.9,643.7 331.4,643.1 334.0,642.6 C336.5,642.0 340.4,641.2 341.6,640.9 L341.7,641.0 C341.9,641.3 342.5,642.0 342.9,642.5 C343.3,643.0 343.7,643.5 344.1,644.0 C344.5,644.6 344.9,645.1 345.3,645.6 C345.7,646.1 346.1,646.6 346.5,647.1 C346.9,647.6 347.3,648.1 347.7,648.6 C348.1,649.1 348.5,649.6 348.9,650.1 C349.3,650.6 349.7,651.1 350.1,651.6 C350.5,652.1 350.9,652.6 351.4,653.1 C351.8,653.6 352.2,654.1 352.6,654.6 C353.0,655.1 353.4,655.6 353.9,656.1 C354.3,656.6 354.7,657.1 355.1,657.6 C355.5,658.1 356.0,658.6 356.4,659.1 C356.8,659.5 357.3,660.0 357.7,660.5 C358.1,661.0 358.5,661.5 359.0,662.0 C359.4,662.4 359.9,662.9 360.3,663.4 C360.7,663.9 361.2,664.4 361.6,664.8 C362.1,665.3 362.5,665.8 363.0,666.2 C363.4,666.7 363.9,667.2 364.3,667.6 C364.8,668.1 365.2,668.5 365.7,669.0 C366.1,669.5 366.6,669.9 367.1,670.4 C367.5,670.8 368.0,671.3 368.4,671.7 C368.9,672.2 369.4,672.6 369.9,673.0 C370.3,673.5 370.8,673.9 371.3,674.3 C371.8,674.8 372.2,675.2 372.7,675.6 C373.2,676.1 373.7,676.5 374.2,676.9 C374.7,677.3 375.2,677.7 375.7,678.1 C376.2,678.6 376.7,679.0 377.2,679.4 C377.7,679.8 378.2,680.2 378.7,680.6 C379.2,681.0 379.7,681.4 380.2,681.7 C380.7,682.1 381.2,682.5 381.8,682.9 C382.3,683.3 382.8,683.7 383.3,684.0 C383.9,684.4 384.4,684.8 384.9,685.1 C385.5,685.5 386.0,685.8 386.5,686.2 C387.1,686.5 387.6,686.9 388.2,687.2 C388.7,687.6 389.3,687.9 389.8,688.3 C390.4,688.6 391.0,688.9 391.5,689.2 C392.1,689.6 392.7,689.9 393.2,690.2 C393.8,690.5 394.4,690.8 395.0,691.1 C395.5,691.4 396.4,691.8 396.7,692.0 L396.7,692.0 L475.5,707.9 L475.5,707.9 C476.1,707.9 478.0,708.0 479.2,708.1 C480.4,708.1 481.7,708.2 482.9,708.3 C484.1,708.4 485.3,708.5 486.5,708.7 C487.8,708.8 489.0,709.0 490.2,709.2 C491.4,709.3 492.6,709.5 493.8,709.7 C495.0,709.9 496.2,710.2 497.4,710.4 C498.6,710.6 499.8,710.9 501.0,711.2 C502.2,711.5 503.4,711.7 504.5,712.0 C505.7,712.4 506.9,712.7 508.1,713.0 C509.2,713.3 510.4,713.7 511.6,714.1 C512.7,714.4 513.9,714.8 515.0,715.2 C516.2,715.6 517.3,716.0 518.5,716.5 C519.6,716.9 520.7,717.3 521.9,717.8 C523.0,718.2 524.1,718.7 525.2,719.2 C526.4,719.7 527.5,720.2 528.6,720.7 C529.7,721.2 530.8,721.7 531.9,722.3 C533.0,722.8 534.0,723.4 535.1,723.9 C536.2,724.5 537.3,725.1 538.4,725.7 C539.4,726.3 540.5,726.9 541.5,727.5 C542.6,728.1 543.6,728.7 544.7,729.4 C545.7,730.0 546.7,730.7 547.8,731.3 C548.8,732.0 549.8,732.7 550.8,733.4 C551.8,734.1 552.8,734.8 553.8,735.5 C554.8,736.2 555.8,736.9 556.8,737.7 C557.8,738.4 558.7,739.1 559.7,739.9 C560.7,740.7 561.6,741.4 562.6,742.2 C563.5,743.0 564.4,743.8 565.4,744.6 C566.3,745.4 567.2,746.2 568.1,747.0 C569.0,747.8 569.9,748.7 570.8,749.5 C571.7,750.4 572.6,751.2 573.5,752.1 C574.4,752.9 575.2,753.8 576.1,754.7 C576.9,755.6 577.8,756.5 578.6,757.4 C579.4,758.3 580.3,759.2 581.1,760.1 C581.9,761.0 582.7,761.9 583.5,762.8 C584.3,763.8 585.1,764.7 585.8,765.7 C586.6,766.6 587.4,767.6 588.1,768.5 C588.9,769.5 589.6,770.5 590.3,771.4 C591.1,772.4 591.8,773.4 592.5,774.4 C593.2,775.4 594.2,776.9 594.6,777.4 L594.6,777.4 C594.0,777.6 592.2,778.3 590.9,778.8 C589.7,779.2 588.5,779.7 587.2,780.1 C586.0,780.6 584.7,781.0 583.5,781.5 C582.2,781.9 580.9,782.4 579.6,782.9 C578.4,783.3 577.1,783.8 575.8,784.3 C574.5,784.7 573.2,785.2 571.9,785.7 C570.5,786.2 569.2,786.6 567.9,787.1 C566.6,787.6 565.2,788.1 563.9,788.6 C562.6,789.1 561.2,789.6 559.9,790.1 C558.6,790.6 557.2,791.1 555.9,791.7 C554.6,792.2 553.2,792.7 551.9,793.3 C550.5,793.8 549.2,794.3 547.9,794.9 C546.5,795.5 545.2,796.0 543.9,796.6 C542.6,797.2 541.2,797.7 539.9,798.3 C538.6,798.9 537.3,799.5 536.0,800.1 C534.7,800.7 533.4,801.4 532.1,802.0 C530.8,802.6 529.5,803.3 528.2,803.9 C526.9,804.6 525.7,805.2 524.4,805.9 C523.1,806.6 521.9,807.3 520.7,808.0 C519.4,808.7 518.2,809.4 517.0,810.2 C515.8,810.9 514.6,811.6 513.4,812.4 C512.2,813.1 511.0,813.9 509.9,814.7 C508.7,815.5 507.6,816.3 506.5,817.1 C505.4,817.9 504.2,818.8 503.2,819.6 C502.1,820.5 501.0,821.3 500.0,822.2 C498.9,823.1 497.9,824.0 496.9,824.9 C495.9,825.9 494.9,826.8 493.9,827.7 C493.0,828.7 492.0,829.7 491.1,830.7 C490.2,831.7 489.3,832.7 488.5,833.7 C487.6,834.7 486.7,835.8 485.9,836.9 C485.1,837.9 484.3,839.0 483.6,840.1 C482.8,841.2 482.1,842.4 481.4,843.5 C480.7,844.7 480.0,845.9 479.4,847.1 C478.7,848.3 478.1,849.5 477.5,850.7 C477.0,852.0 476.4,853.3 475.9,854.5 C475.4,855.8 474.9,857.1 474.5,858.5 C474.0,859.8 473.6,861.2 473.2,862.6 C472.9,864.0 472.5,865.4 472.2,866.8 C471.9,868.3 471.6,870.5 471.4,871.2 L471.5,871.2 C469.0,869.9 462.8,866.6 456.7,863.6 C450.6,860.6 442.6,856.2 435.0,853.2 C427.4,850.2 417.1,847.4 411.3,845.7 C405.5,844.0 404.4,843.7 400.0,842.8 C395.6,841.9 390.0,841.1 385.0,840.5 C380.0,839.9 374.8,839.3 370.0,838.9 C365.2,838.5 361.0,838.0 356.4,837.9 C351.8,837.8 347.2,838.0 342.2,838.2 C337.2,838.4 331.3,838.5 326.6,839.0 C321.9,839.5 318.1,840.4 313.8,841.1 C309.6,841.8 305.8,842.3 301.1,843.2 C296.4,844.1 290.9,845.4 285.5,846.7 C280.1,848.0 273.5,849.9 268.4,851.0 C263.3,852.1 259.4,853.0 255.0,853.5 C250.6,854.0 248.1,854.0 241.8,854.0 C235.5,854.0 225.8,854.3 217.3,853.8 C208.8,853.3 200.0,852.5 190.8,850.9 C181.7,849.2 171.6,846.8 162.4,843.9 C153.2,841.0 144.4,837.3 135.9,833.3 C127.4,829.3 115.4,822.0 111.3,819.7 Z"/></clipPath>
<g clip-path="url(#bfo)"><g opacity="0.999">
<rect x="90" y="620" width="560" height="290" fill="#3AB840"/>
<path d="M295.4,789.7 C295.2,789.9 294.7,790.6 294.3,791.0 C293.9,791.5 293.5,791.9 293.1,792.4 C292.8,792.8 292.4,793.3 292.0,793.7 C291.6,794.2 291.3,794.6 290.9,795.1 C290.5,795.5 290.2,796.0 289.8,796.5 C289.5,796.9 289.1,797.4 288.7,797.8 C288.4,798.3 288.0,798.8 287.7,799.2 C287.3,799.7 287.0,800.2 286.6,800.7 C286.3,801.1 285.9,801.6 285.6,802.1 C285.3,802.6 284.9,803.1 284.6,803.5 C284.3,804.0 283.9,804.5 283.6,805.0 C283.3,805.5 283.0,806.0 282.6,806.5 C282.3,806.9 282.0,807.4 281.7,807.9 C281.4,808.4 281.1,808.9 280.8,809.4 C280.5,809.9 280.2,810.4 279.9,810.9 C279.6,811.4 279.3,812.0 279.0,812.5 C278.8,813.0 278.5,813.5 278.2,814.0 C277.9,814.5 277.7,815.0 277.4,815.5 C277.1,816.1 276.9,816.6 276.6,817.1 C276.4,817.6 276.1,818.1 275.9,818.7 C275.6,819.2 275.4,819.7 275.2,820.3 C274.9,820.8 274.7,821.3 274.5,821.9 C274.3,822.4 274.1,822.9 273.9,823.5 C273.7,824.0 273.5,824.5 273.3,825.1 C273.1,825.6 272.9,826.2 272.7,826.7 C272.5,827.3 272.3,827.8 272.2,828.4 C272.0,828.9 271.8,829.5 271.7,830.0 C271.5,830.6 271.4,831.2 271.3,831.7 C271.1,832.3 271.0,832.8 270.9,833.4 C270.7,834.0 270.6,834.5 270.5,835.1 C270.4,835.7 270.3,836.3 270.2,836.8 C270.1,837.4 270.0,838.0 269.9,838.6 C269.9,839.1 269.8,839.7 269.7,840.3 C269.7,840.9 269.6,841.5 269.6,842.0 C269.5,842.6 269.5,843.2 269.4,843.8 C269.4,844.4 269.4,845.0 269.4,845.6 C269.4,846.2 269.4,846.8 269.4,847.4 C269.4,848.0 269.4,848.6 269.4,849.2 C269.4,849.8 269.5,850.7 269.5,851.0 L269.5,851.0 L269.5,870.0 L326.6,870.0 L326.6,839.0 C326.6,838.1 326.6,835.2 326.6,833.3 C326.7,831.4 326.8,829.5 327.0,827.7 C327.2,825.8 327.4,824.0 327.7,822.2 C328.0,820.4 328.4,818.6 328.8,816.8 C329.2,815.0 329.7,813.3 330.2,811.5 C330.7,809.8 331.3,808.1 331.9,806.4 C332.5,804.7 333.2,803.1 334.0,801.5 C334.7,799.8 335.5,798.2 336.3,796.7 C337.1,795.1 338.0,793.5 338.9,792.0 C339.8,790.5 340.8,789.0 341.8,787.5 C342.8,786.1 343.9,784.6 344.9,783.2 C346.0,781.8 347.2,780.5 348.3,779.1 C349.5,777.8 350.7,776.5 351.9,775.2 C353.2,773.9 354.4,772.7 355.8,771.5 C357.1,770.2 358.4,769.1 359.8,767.9 C361.1,766.8 362.5,765.7 364.0,764.6 C365.4,763.5 366.8,762.4 368.3,761.4 C369.8,760.3 371.3,759.3 372.8,758.3 C374.3,757.4 375.9,756.4 377.4,755.4 C379.0,754.5 380.5,753.6 382.1,752.6 C383.7,751.7 385.3,750.8 386.9,750.0 C388.5,749.1 390.2,748.2 391.8,747.4 C393.4,746.5 395.1,745.7 396.7,744.8 C398.4,744.0 400.0,743.2 401.7,742.4 C403.3,741.6 405.0,740.7 406.6,739.9 C408.3,739.1 409.9,738.3 411.6,737.5 C413.2,736.7 414.9,735.9 416.5,735.1 C418.1,734.3 419.8,733.5 421.4,732.7 C423.1,732.0 424.7,731.2 426.3,730.4 C427.9,729.6 429.6,728.8 431.2,728.0 C432.8,727.2 434.4,726.5 436.1,725.7 C437.7,724.9 439.3,724.2 441.0,723.4 C442.6,722.7 444.2,721.9 445.9,721.2 C447.5,720.4 449.1,719.7 450.8,719.0 C452.4,718.3 454.1,717.5 455.7,716.8 C457.4,716.1 459.1,715.4 460.7,714.8 C462.4,714.1 464.1,713.4 465.8,712.8 C467.4,712.1 469.1,711.5 470.8,710.8 C472.6,710.2 475.1,709.3 476.0,709.0 L474.1,706.6 C473.1,706.8 470.2,707.5 468.3,707.9 C466.3,708.4 464.4,708.9 462.4,709.4 C460.5,709.8 458.5,710.3 456.5,710.8 C454.6,711.3 452.6,711.9 450.7,712.4 C448.7,712.9 446.8,713.5 444.8,714.1 C442.9,714.6 440.9,715.2 439.0,715.8 C437.0,716.4 435.1,717.0 433.1,717.7 C431.2,718.3 429.2,718.9 427.3,719.6 C425.4,720.3 423.4,720.9 421.5,721.6 C419.6,722.3 417.6,723.0 415.7,723.8 C413.8,724.5 411.9,725.3 410.0,726.0 C408.1,726.8 406.2,727.6 404.4,728.4 C402.5,729.2 400.6,730.0 398.7,730.9 C396.9,731.7 395.0,732.6 393.2,733.5 C391.4,734.4 389.5,735.3 387.7,736.2 C385.9,737.2 384.1,738.1 382.3,739.1 C380.5,740.1 378.8,741.1 377.0,742.1 C375.2,743.1 373.5,744.2 371.8,745.2 C370.1,746.3 368.3,747.4 366.7,748.5 C365.0,749.6 363.3,750.8 361.6,751.9 C360.0,753.1 358.3,754.3 356.7,755.5 C355.1,756.7 353.5,758.0 351.9,759.2 C350.4,760.5 348.8,761.8 347.3,763.1 C345.7,764.4 344.2,765.8 342.7,767.2 C341.2,768.5 339.8,769.9 338.3,771.4 C336.9,772.8 335.5,774.2 334.1,775.7 C332.7,777.2 331.3,778.7 330.0,780.3 C328.7,781.8 327.4,783.4 326.1,784.9 C324.9,786.5 323.1,789.0 322.5,789.8 Z" fill="#2EAC5C" />
<path d="M216.6,865.8 C216.7,863.8 217.1,856.7 217.3,853.8 C217.4,851.0 217.4,850.3 217.6,848.6 C217.7,846.9 217.9,845.2 218.1,843.5 C218.3,841.8 218.6,840.1 218.9,838.4 C219.2,836.7 219.6,835.1 219.9,833.4 C220.3,831.8 220.8,830.2 221.2,828.5 C221.7,826.9 222.2,825.3 222.7,823.8 C223.2,822.2 223.8,820.6 224.4,819.1 C225.0,817.5 225.7,816.0 226.3,814.5 C227.0,813.0 227.7,811.5 228.4,810.0 C229.2,808.5 230.0,807.0 230.8,805.6 C231.6,804.1 232.4,802.7 233.3,801.3 C234.1,799.9 235.0,798.5 235.9,797.1 C236.8,795.7 237.8,794.4 238.8,793.0 C239.7,791.7 240.7,790.3 241.8,789.0 C242.8,787.7 243.8,786.4 244.9,785.2 C246.0,783.9 247.1,782.6 248.2,781.4 C249.3,780.2 250.5,779.0 251.6,777.8 C252.8,776.6 254.0,775.4 255.2,774.2 C256.4,773.1 257.6,771.9 258.9,770.8 C260.1,769.7 261.4,768.6 262.6,767.5 C263.9,766.4 265.2,765.4 266.5,764.3 C267.8,763.3 269.2,762.3 270.5,761.3 C271.8,760.3 273.2,759.3 274.6,758.3 C275.9,757.4 277.3,756.4 278.7,755.5 C280.1,754.6 281.5,753.7 282.9,752.8 C284.3,751.9 285.8,751.0 287.2,750.2 C288.6,749.3 290.1,748.5 291.5,747.6 C293.0,746.8 294.4,746.0 295.9,745.2 C297.4,744.4 298.8,743.6 300.3,742.8 C301.8,742.0 303.3,741.2 304.8,740.4 C306.3,739.7 307.8,738.9 309.2,738.1 C310.7,737.4 312.2,736.6 313.7,735.9 C315.2,735.1 316.7,734.4 318.2,733.7 C319.7,732.9 321.2,732.2 322.7,731.5 C324.2,730.8 325.7,730.0 327.2,729.3 C328.7,728.6 330.2,727.9 331.7,727.1 C333.2,726.4 334.7,725.7 336.2,724.9 C337.6,724.2 339.1,723.5 340.6,722.7 C342.1,722.0 344.3,720.9 345.0,720.5 L352.1,719.9 L358.1,716.0 L364.1,712.3 L370.4,708.7 L376.8,705.4 L383.3,702.2 L389.9,699.2 L396.6,696.4 L403.3,693.7 L410.2,691.1 L417.1,688.7 L424.0,686.4 L430.9,684.2 L437.8,682.1 L444.7,680.1 L451.6,678.1 L458.4,676.3 L465.2,674.5 L471.9,672.7 L500.0,620.0 L90.0,620.0 L90.0,900.0 L216.6,900.0 Z" fill="#6AC630" />
<path d="M189.9,862.9 C190.1,860.9 190.6,854.2 190.8,850.9 C191.1,847.7 191.1,846.0 191.4,843.6 C191.7,841.1 192.0,838.7 192.4,836.4 C192.8,834.0 193.3,831.6 193.9,829.3 C194.5,827.0 195.1,824.7 195.8,822.4 C196.5,820.2 197.3,817.9 198.2,815.7 C199.0,813.5 199.9,811.3 200.9,809.2 C201.8,807.1 202.9,804.9 204.0,802.9 C205.1,800.8 206.2,798.7 207.4,796.7 C208.6,794.7 209.9,792.7 211.2,790.8 C212.5,788.8 213.9,786.9 215.3,785.0 C216.7,783.1 218.2,781.3 219.7,779.5 C221.2,777.6 222.8,775.9 224.4,774.1 C226.0,772.4 227.6,770.7 229.3,769.0 C231.0,767.3 232.7,765.7 234.5,764.1 C236.2,762.5 238.0,761.0 239.9,759.4 C241.7,757.9 243.6,756.5 245.5,755.0 C247.4,753.6 249.3,752.2 251.2,750.8 C253.2,749.5 255.2,748.1 257.2,746.9 C259.2,745.6 261.2,744.3 263.3,743.1 C265.3,741.9 267.4,740.7 269.5,739.6 C271.5,738.4 273.6,737.3 275.8,736.2 C277.9,735.0 280.0,734.0 282.1,732.9 C284.2,731.8 286.4,730.8 288.5,729.7 C290.6,728.7 292.8,727.6 294.9,726.6 C297.1,725.6 299.2,724.6 301.4,723.6 C303.5,722.6 305.7,721.6 307.8,720.6 C310.0,719.7 312.2,718.7 314.3,717.8 C316.5,716.8 318.7,715.9 320.9,715.0 C323.0,714.1 325.2,713.2 327.4,712.3 C329.6,711.4 331.8,710.6 334.0,709.7 C336.2,708.9 338.4,708.1 340.7,707.2 C342.9,706.4 345.1,705.6 347.3,704.9 C349.6,704.1 351.8,703.4 354.1,702.6 C356.3,701.9 358.6,701.2 360.9,700.5 C363.1,699.8 365.4,699.1 367.7,698.5 C370.0,697.9 372.3,697.2 374.6,696.7 C376.9,696.1 379.2,695.5 381.5,694.9 C383.8,694.4 386.2,693.9 388.5,693.4 C390.9,692.9 394.4,692.2 395.6,692.0 L403.3,693.7 L410.2,691.1 L417.1,688.7 L424.0,686.4 L430.9,684.2 L437.8,682.1 L444.7,680.1 L451.6,678.1 L458.4,676.3 L465.2,674.5 L471.9,672.7 L500.0,620.0 L90.0,620.0 L90.0,900.0 L189.9,900.0 Z" fill="#C4D018" />
<path d="M160.7,855.8 C160.9,853.8 161.9,847.2 162.3,843.9 C162.8,840.7 163.0,838.8 163.4,836.2 C163.9,833.7 164.4,831.2 164.9,828.8 C165.5,826.3 166.1,823.9 166.8,821.5 C167.5,819.1 168.3,816.7 169.1,814.4 C169.9,812.1 170.8,809.8 171.7,807.5 C172.7,805.3 173.7,803.0 174.7,800.8 C175.8,798.6 176.9,796.5 178.0,794.4 C179.2,792.2 180.4,790.1 181.7,788.1 C182.9,786.0 184.2,784.0 185.6,782.0 C187.0,780.0 188.4,778.1 189.8,776.1 C191.3,774.2 192.8,772.3 194.3,770.4 C195.9,768.6 197.4,766.7 199.1,764.9 C200.7,763.1 202.4,761.4 204.1,759.6 C205.8,757.9 207.5,756.2 209.3,754.5 C211.0,752.8 212.9,751.2 214.7,749.6 C216.5,747.9 218.4,746.4 220.3,744.8 C222.2,743.2 224.1,741.7 226.1,740.2 C228.1,738.7 230.1,737.3 232.1,735.8 C234.1,734.4 236.1,733.0 238.2,731.6 C240.2,730.2 242.3,728.9 244.4,727.6 C246.6,726.2 248.7,725.0 250.8,723.7 C253.0,722.4 255.2,721.2 257.4,720.0 C259.6,718.8 261.8,717.6 264.0,716.4 C266.2,715.3 268.5,714.1 270.7,713.0 C273.0,711.9 275.3,710.9 277.6,709.8 C279.9,708.8 282.2,707.7 284.5,706.7 C286.8,705.7 289.1,704.8 291.4,703.8 C293.8,702.8 296.1,701.9 298.5,701.0 C300.8,700.1 303.2,699.2 305.6,698.4 C307.9,697.5 310.3,696.7 312.7,695.9 C315.0,695.1 317.4,694.3 319.8,693.5 C322.2,692.7 324.6,692.0 327.0,691.3 C329.4,690.5 331.7,689.8 334.1,689.2 C336.5,688.5 338.9,687.8 341.3,687.2 C343.7,686.5 346.0,685.9 348.4,685.3 C350.8,684.7 353.1,684.1 355.5,683.6 C357.9,683.0 360.2,682.5 362.6,681.9 C364.9,681.4 367.3,680.9 369.6,680.4 C371.9,679.9 374.1,679.5 376.5,679.0 C379.0,678.5 383.1,677.7 384.4,677.4 L500.0,620.0 L90.0,620.0 L90.0,900.0 L160.7,900.0 Z" fill="#D0741C" />
<path d="M134.8,845.3 C134.9,843.3 135.5,836.7 135.8,833.4 C136.1,830.0 136.2,827.9 136.6,825.3 C136.9,822.6 137.3,820.0 137.8,817.4 C138.3,814.8 138.8,812.3 139.5,809.8 C140.1,807.3 140.8,804.8 141.6,802.4 C142.4,799.9 143.3,797.6 144.2,795.2 C145.1,792.8 146.1,790.5 147.2,788.3 C148.3,786.0 149.4,783.7 150.6,781.5 C151.8,779.3 153.0,777.1 154.4,775.0 C155.7,772.9 157.0,770.8 158.5,768.7 C159.9,766.6 161.4,764.6 162.9,762.6 C164.4,760.6 166.0,758.7 167.7,756.7 C169.3,754.8 171.0,752.9 172.7,751.1 C174.4,749.2 176.2,747.4 178.0,745.6 C179.8,743.8 181.7,742.0 183.5,740.3 C185.4,738.6 187.4,736.9 189.3,735.2 C191.3,733.6 193.3,731.9 195.3,730.3 C197.3,728.7 199.4,727.2 201.5,725.6 C203.5,724.1 205.7,722.6 207.8,721.1 C209.9,719.6 212.1,718.2 214.3,716.7 C216.4,715.3 218.6,713.9 220.9,712.6 C223.1,711.2 225.3,709.9 227.6,708.6 C229.8,707.3 232.1,706.0 234.4,704.8 C236.7,703.5 239.0,702.3 241.3,701.1 C243.7,699.9 246.0,698.8 248.4,697.6 C250.7,696.5 253.1,695.4 255.5,694.3 C257.8,693.2 260.2,692.1 262.6,691.1 C265.0,690.0 267.4,689.0 269.9,688.0 C272.3,687.0 274.7,686.1 277.2,685.1 C279.6,684.2 282.0,683.3 284.5,682.4 C287.0,681.5 289.4,680.6 291.9,679.7 C294.3,678.9 296.8,678.0 299.3,677.2 C301.7,676.4 304.2,675.6 306.7,674.8 C309.2,674.0 311.6,673.3 314.1,672.6 C316.6,671.8 319.1,671.1 321.5,670.4 C324.0,669.7 326.5,669.0 328.9,668.4 C331.4,667.7 333.9,667.1 336.3,666.4 C338.8,665.8 341.2,665.2 343.7,664.6 C346.1,664.0 348.5,663.4 351.0,662.8 C353.4,662.3 355.7,661.8 358.2,661.2 C360.7,660.6 364.7,659.7 366.0,659.4 L500.0,620.0 L90.0,620.0 L90.0,900.0 L134.8,900.0 Z" fill="#DC1C24" />
<path d="M381.8,851.6 C382.2,849.6 383.6,842.7 384.2,839.8 C384.8,837.0 384.9,836.2 385.3,834.4 C385.7,832.7 386.1,830.9 386.6,829.2 C387.1,827.5 387.6,825.8 388.2,824.1 C388.7,822.5 389.3,820.8 390.0,819.2 C390.6,817.6 391.3,816.0 392.0,814.4 C392.7,812.8 393.4,811.3 394.2,809.7 C394.9,808.2 395.8,806.7 396.6,805.2 C397.4,803.7 398.3,802.3 399.2,800.8 C400.1,799.4 401.0,798.0 402.0,796.6 C403.0,795.2 403.9,793.8 405.0,792.4 C406.0,791.1 407.0,789.8 408.1,788.4 C409.2,787.1 410.3,785.8 411.4,784.6 C412.6,783.3 413.7,782.1 414.9,780.9 C416.1,779.6 417.3,778.4 418.5,777.2 C419.7,776.1 421.0,774.9 422.3,773.8 C423.5,772.6 424.8,771.5 426.1,770.4 C427.5,769.3 428.8,768.2 430.2,767.2 C431.5,766.1 432.9,765.1 434.3,764.1 C435.7,763.0 437.1,762.0 438.6,761.1 C440.0,760.1 441.4,759.1 442.9,758.2 C444.4,757.2 445.9,756.3 447.4,755.4 C448.9,754.5 450.4,753.6 451.9,752.8 C453.4,751.9 455.0,751.1 456.5,750.2 C458.1,749.4 459.6,748.6 461.2,747.8 C462.8,747.0 464.4,746.2 466.0,745.5 C467.6,744.7 469.2,744.0 470.8,743.3 C472.4,742.6 474.0,741.9 475.7,741.2 C477.3,740.5 478.9,739.8 480.6,739.2 C482.2,738.5 483.9,737.9 485.5,737.3 C487.2,736.7 488.9,736.1 490.5,735.5 C492.2,734.9 493.9,734.3 495.5,733.8 C497.2,733.2 498.9,732.7 500.5,732.2 C502.2,731.7 503.9,731.2 505.6,730.7 C507.2,730.2 508.9,729.7 510.6,729.3 C512.3,728.8 514.0,728.4 515.6,728.0 C517.3,727.6 519.0,727.1 520.6,726.8 C522.3,726.4 524.0,726.0 525.6,725.6 C527.3,725.3 528.9,724.9 530.6,724.6 C532.2,724.2 533.3,724.0 535.5,723.6 C537.6,723.2 542.0,722.4 543.3,722.1 L640.0,700.0 L640.0,900.0 L381.8,900.0 Z" fill="#6AC630" />
<path d="M408.8,857.6 C409.2,855.6 410.3,848.5 410.8,845.7 C411.2,842.9 411.3,842.2 411.6,840.5 C411.9,838.8 412.3,837.2 412.7,835.5 C413.1,833.9 413.5,832.3 414.0,830.7 C414.5,829.1 415.0,827.5 415.6,826.0 C416.2,824.4 416.8,822.9 417.4,821.4 C418.0,819.9 418.7,818.5 419.4,817.0 C420.1,815.6 420.8,814.1 421.6,812.7 C422.4,811.3 423.2,810.0 424.0,808.6 C424.9,807.3 425.7,805.9 426.6,804.6 C427.5,803.3 428.5,802.0 429.4,800.8 C430.4,799.5 431.4,798.2 432.4,797.0 C433.4,795.8 434.4,794.6 435.5,793.4 C436.6,792.2 437.7,791.1 438.8,790.0 C439.9,788.8 441.1,787.7 442.2,786.6 C443.4,785.5 444.6,784.4 445.8,783.4 C447.0,782.3 448.3,781.3 449.5,780.3 C450.8,779.2 452.1,778.2 453.4,777.3 C454.7,776.3 456.0,775.3 457.3,774.4 C458.6,773.4 460.0,772.5 461.4,771.6 C462.7,770.7 464.1,769.8 465.5,768.9 C466.9,768.0 468.4,767.2 469.8,766.4 C471.2,765.5 472.7,764.7 474.1,763.9 C475.6,763.1 477.1,762.3 478.5,761.5 C480.0,760.7 481.5,760.0 483.0,759.3 C484.5,758.5 486.0,757.8 487.6,757.1 C489.1,756.4 490.6,755.7 492.1,755.0 C493.7,754.3 495.2,753.6 496.8,753.0 C498.3,752.3 499.9,751.7 501.4,751.1 C503.0,750.4 504.6,749.8 506.1,749.2 C507.7,748.6 509.3,748.0 510.8,747.5 C512.4,746.9 514.0,746.3 515.5,745.8 C517.1,745.3 518.7,744.7 520.3,744.2 C521.8,743.7 523.4,743.2 525.0,742.7 C526.5,742.2 528.1,741.7 529.7,741.2 C531.2,740.7 532.8,740.3 534.3,739.8 C535.9,739.3 537.4,738.9 538.9,738.5 C540.5,738.0 542.0,737.6 543.5,737.2 C545.1,736.8 546.6,736.4 548.1,736.0 C549.6,735.6 550.5,735.3 552.6,734.8 C554.6,734.3 559.0,733.1 560.3,732.8 L640.0,700.0 L640.0,900.0 L408.8,900.0 Z" fill="#C4D018" />
<path d="M433.6,865.1 C433.9,863.1 434.9,856.1 435.3,853.2 C435.7,850.4 435.7,849.9 436.0,848.2 C436.3,846.5 436.6,844.9 437.0,843.3 C437.3,841.7 437.7,840.1 438.2,838.6 C438.6,837.0 439.1,835.5 439.6,834.0 C440.1,832.5 440.6,831.1 441.2,829.6 C441.8,828.2 442.4,826.8 443.1,825.4 C443.7,824.0 444.4,822.6 445.2,821.3 C445.9,819.9 446.6,818.6 447.4,817.3 C448.2,816.0 449.0,814.8 449.9,813.5 C450.7,812.3 451.6,811.0 452.5,809.8 C453.4,808.6 454.3,807.5 455.3,806.3 C456.3,805.2 457.3,804.0 458.3,802.9 C459.3,801.8 460.3,800.7 461.4,799.6 C462.5,798.6 463.5,797.5 464.7,796.5 C465.8,795.5 466.9,794.5 468.1,793.5 C469.2,792.5 470.4,791.5 471.6,790.6 C472.8,789.6 474.0,788.7 475.3,787.8 C476.5,786.9 477.8,786.0 479.0,785.1 C480.3,784.3 481.6,783.4 482.9,782.6 C484.2,781.7 485.6,780.9 486.9,780.1 C488.2,779.3 489.6,778.5 491.0,777.8 C492.3,777.0 493.7,776.2 495.1,775.5 C496.5,774.8 497.9,774.1 499.3,773.4 C500.8,772.6 502.2,772.0 503.6,771.3 C505.1,770.6 506.5,770.0 508.0,769.3 C509.4,768.7 510.9,768.0 512.4,767.4 C513.8,766.8 515.3,766.2 516.8,765.6 C518.3,765.0 519.8,764.4 521.3,763.9 C522.8,763.3 524.3,762.8 525.8,762.2 C527.3,761.7 528.8,761.1 530.3,760.6 C531.8,760.1 533.3,759.6 534.8,759.1 C536.3,758.6 537.8,758.1 539.3,757.7 C540.8,757.2 542.3,756.7 543.8,756.3 C545.3,755.8 546.8,755.4 548.3,754.9 C549.8,754.5 551.3,754.1 552.8,753.7 C554.3,753.2 555.8,752.8 557.2,752.4 C558.7,752.0 560.2,751.6 561.6,751.3 C563.1,750.9 564.5,750.5 566.0,750.1 C567.4,749.7 568.3,749.5 570.3,749.0 C572.3,748.5 576.7,747.4 578.0,747.0 L640.0,700.0 L640.0,900.0 L433.6,900.0 Z" fill="#D0741C" />
<path d="M455.3,875.6 C455.6,873.6 456.3,866.4 456.6,863.6 C457.0,860.9 457.0,860.4 457.2,858.9 C457.4,857.3 457.7,855.8 458.0,854.3 C458.3,852.8 458.6,851.3 459.0,849.8 C459.4,848.4 459.8,847.0 460.3,845.6 C460.7,844.2 461.2,842.8 461.8,841.4 C462.3,840.1 462.9,838.7 463.5,837.4 C464.1,836.1 464.8,834.8 465.5,833.6 C466.1,832.3 466.9,831.1 467.6,829.9 C468.3,828.6 469.1,827.4 469.9,826.3 C470.8,825.1 471.6,824.0 472.5,822.8 C473.3,821.7 474.2,820.6 475.2,819.5 C476.1,818.4 477.0,817.4 478.0,816.3 C479.0,815.3 480.0,814.3 481.0,813.3 C482.1,812.3 483.1,811.3 484.2,810.3 C485.3,809.4 486.4,808.4 487.5,807.5 C488.6,806.6 489.8,805.7 490.9,804.8 C492.1,803.9 493.3,803.0 494.5,802.2 C495.7,801.4 496.9,800.5 498.1,799.7 C499.3,798.9 500.6,798.1 501.9,797.3 C503.1,796.6 504.4,795.8 505.7,795.1 C507.0,794.3 508.3,793.6 509.6,792.9 C510.9,792.2 512.2,791.5 513.6,790.8 C514.9,790.1 516.3,789.4 517.6,788.8 C519.0,788.1 520.3,787.5 521.7,786.9 C523.1,786.2 524.5,785.6 525.9,785.0 C527.3,784.4 528.7,783.8 530.1,783.2 C531.5,782.7 532.9,782.1 534.3,781.5 C535.7,781.0 537.1,780.4 538.5,779.9 C539.9,779.3 541.4,778.8 542.8,778.3 C544.2,777.8 545.6,777.3 547.1,776.8 C548.5,776.2 549.9,775.8 551.3,775.3 C552.7,774.8 554.2,774.3 555.6,773.8 C557.0,773.3 558.4,772.9 559.8,772.4 C561.2,771.9 562.6,771.5 564.0,771.0 C565.4,770.6 566.8,770.1 568.2,769.7 C569.6,769.2 571.0,768.8 572.4,768.3 C573.7,767.9 575.1,767.5 576.5,767.0 C577.8,766.6 579.2,766.2 580.5,765.7 C581.8,765.3 582.5,765.1 584.5,764.4 C586.4,763.8 590.8,762.4 592.1,761.9 L640.0,700.0 L640.0,900.0 L455.3,900.0 Z" fill="#DC1C24" />
<rect x="90" y="620" width="560" height="290" fill="url(#shade)"/>
</g></g>
<clipPath id="bsf"><path d="M111.3,819.0 C115.4,821.3 127.4,828.6 135.9,832.6 C144.4,836.6 153.2,840.3 162.4,843.2 C171.6,846.1 181.7,848.5 190.8,850.2 C200.0,851.8 208.8,852.6 217.3,853.1 C225.8,853.6 235.5,853.3 241.8,853.3 C248.1,853.2 250.6,853.3 255.0,852.8 C259.4,852.3 263.3,851.4 268.4,850.3 C273.5,849.2 280.1,847.3 285.5,846.0 C290.9,844.7 296.4,843.4 301.1,842.5 C305.8,841.6 309.6,841.1 313.8,840.4 C318.1,839.7 321.9,838.8 326.6,838.3 C331.3,837.8 337.2,837.7 342.2,837.5 C347.2,837.3 351.8,837.1 356.4,837.2 C361.0,837.3 365.2,837.8 370.0,838.2 C374.8,838.6 380.0,839.1 385.0,839.8 C390.0,840.4 395.6,841.2 400.0,842.1 C404.4,843.0 405.5,843.3 411.3,845.0 C417.1,846.7 427.4,849.5 435.0,852.5 C442.6,855.5 450.6,859.9 456.7,862.9 C462.8,865.9 469.0,869.2 471.5,870.5 L471.5,870.5 L469.6,883.5 L469.6,883.5 C466.7,881.6 458.4,875.6 452.0,872.1 C445.6,868.6 438.6,865.4 431.2,862.5 C423.8,859.6 412.8,856.6 407.6,855.0 C402.4,853.4 403.8,853.8 400.0,853.0 C396.2,852.2 390.0,851.1 385.0,850.3 C380.0,849.4 374.8,848.5 370.0,847.9 C365.2,847.3 361.0,846.9 356.4,846.7 C351.8,846.5 347.2,846.5 342.2,846.7 C337.2,847.0 331.3,847.5 326.6,848.2 C321.9,848.9 318.1,850.1 313.8,851.0 C309.6,851.9 305.8,852.6 301.1,853.8 C296.4,855.0 290.9,856.9 285.5,858.1 C280.1,859.3 273.5,860.0 268.4,860.9 C263.3,861.8 259.4,863.2 255.0,863.8 C250.6,864.4 248.2,864.4 241.8,864.5 C235.4,864.6 225.3,864.9 216.3,864.2 C207.3,863.5 197.4,862.3 187.9,860.4 C178.4,858.5 168.9,855.9 159.6,852.8 C150.3,849.6 140.4,845.3 132.2,841.5 C124.0,837.7 114.0,832.0 110.4,830.1 Z"/></clipPath>
<g clip-path="url(#bsf)"><g opacity="0.999">
<rect x="90" y="800" width="420" height="100" fill="#60C030"/>
<path d="M80.0,800 L80.0,900 L105.8,900 L150.9,800 Z" fill="#ED1C24" />
<path d="M150.9,800 L105.8,900 L144.8,900 L176.2,800 Z" fill="#F59010" />
<path d="M176.2,800 L144.8,900 L175.8,900 L206.3,800 Z" fill="#F0EC0C" />
<path d="M206.3,800 L175.8,900 L212.9,900 L222.5,800 Z" fill="#90D020" />
<path d="M222.5,800 L212.9,900 L268.4,900 L268.4,800 Z" fill="#60C030" />
<path d="M268.4,800 L268.4,900 L326.6,900 L326.6,800 Z" fill="#68C878" />
<path d="M326.6,800 L326.6,900 L377.1,900 L388.9,800 Z" fill="#60C030" />
<path d="M388.9,800 L377.1,900 L392.1,900 L426.5,800 Z" fill="#90D020" />
<path d="M426.5,800 L392.1,900 L414.7,900 L458.8,800 Z" fill="#F0EC0C" />
<path d="M458.8,800 L414.7,900 L436.6,900 L491.9,800 Z" fill="#F59010" />
<path d="M491.9,800 L436.6,900 L500.0,900 L500.0,800 Z" fill="#ED1C24" />
</g></g>
<linearGradient id="ofg" gradientUnits="userSpaceOnUse" x1="470" y1="0" x2="585" y2="0"><stop offset="0" stop-color="#A21A20"/><stop offset="1" stop-color="#D41C24"/></linearGradient>
<path d="M470.9,870.7 C471.1,870.0 471.4,867.8 471.7,866.3 C472.0,864.9 472.4,863.5 472.7,862.1 C473.1,860.7 473.5,859.3 474.0,858.0 C474.4,856.6 474.9,855.3 475.4,854.0 C475.9,852.8 476.5,851.5 477.0,850.2 C477.6,849.0 478.2,847.8 478.9,846.6 C479.5,845.4 480.2,844.2 480.9,843.0 C481.6,841.9 482.3,840.7 483.1,839.6 C483.8,838.5 484.6,837.4 485.4,836.4 C486.2,835.3 487.1,834.2 488.0,833.2 C488.8,832.2 489.7,831.2 490.6,830.2 C491.5,829.2 492.5,828.2 493.4,827.2 C494.4,826.3 495.4,825.4 496.4,824.4 C497.4,823.5 498.4,822.6 499.5,821.7 C500.5,820.8 501.6,820.0 502.7,819.1 C503.7,818.3 504.9,817.4 506.0,816.6 C507.1,815.8 508.2,815.0 509.4,814.2 C510.5,813.4 511.7,812.6 512.9,811.9 C514.1,811.1 515.3,810.4 516.5,809.7 C517.7,808.9 518.9,808.2 520.2,807.5 C521.4,806.8 522.6,806.1 523.9,805.4 C525.2,804.7 526.4,804.1 527.7,803.4 C529.0,802.8 530.3,802.1 531.6,801.5 C532.9,800.9 534.2,800.2 535.5,799.6 C536.8,799.0 538.1,798.4 539.4,797.8 C540.7,797.2 542.1,796.7 543.4,796.1 C544.7,795.5 546.0,795.0 547.4,794.4 C548.7,793.8 550.0,793.3 551.4,792.8 C552.7,792.2 554.1,791.7 555.4,791.2 C556.7,790.6 558.1,790.1 559.4,789.6 C560.7,789.1 562.1,788.6 563.4,788.1 C564.7,787.6 566.1,787.1 567.4,786.6 C568.7,786.1 570.0,785.7 571.4,785.2 C572.7,784.7 574.0,784.2 575.3,783.8 C576.6,783.3 577.9,782.8 579.1,782.4 C580.4,781.9 581.7,781.4 583.0,781.0 C584.2,780.5 585.5,780.1 586.7,779.6 C588.0,779.2 589.2,778.7 590.4,778.3 C591.7,777.8 593.5,777.1 594.1,776.9 L594.1,776.9 L594.0,787.4 L594.0,787.4 C593.3,787.6 591.4,788.2 590.1,788.6 C588.8,789.0 587.5,789.4 586.2,789.8 C584.8,790.2 583.5,790.6 582.2,791.1 C580.8,791.5 579.5,791.9 578.1,792.3 C576.7,792.7 575.4,793.1 574.0,793.6 C572.7,794.0 571.3,794.4 569.9,794.9 C568.5,795.3 567.1,795.8 565.8,796.2 C564.4,796.7 563.0,797.1 561.6,797.6 C560.2,798.1 558.8,798.5 557.5,799.0 C556.1,799.5 554.7,800.0 553.3,800.5 C551.9,801.0 550.5,801.5 549.2,802.0 C547.8,802.5 546.4,803.1 545.0,803.6 C543.7,804.1 542.3,804.7 540.9,805.2 C539.6,805.8 538.2,806.4 536.9,807.0 C535.5,807.5 534.2,808.1 532.9,808.7 C531.5,809.3 530.2,810.0 528.9,810.6 C527.6,811.2 526.3,811.9 525.0,812.5 C523.7,813.2 522.4,813.9 521.1,814.6 C519.9,815.2 518.6,815.9 517.4,816.7 C516.1,817.4 514.9,818.1 513.7,818.9 C512.4,819.6 511.2,820.4 510.1,821.2 C508.9,822.0 507.7,822.8 506.6,823.6 C505.4,824.4 504.3,825.2 503.2,826.1 C502.0,826.9 500.9,827.8 499.9,828.7 C498.8,829.6 497.7,830.5 496.7,831.5 C495.7,832.4 494.7,833.3 493.7,834.3 C492.7,835.3 491.7,836.3 490.8,837.3 C489.8,838.3 488.9,839.3 488.0,840.4 C487.1,841.4 486.3,842.5 485.4,843.6 C484.6,844.7 483.8,845.8 483.0,847.0 C482.2,848.1 481.4,849.3 480.7,850.5 C480.0,851.7 479.3,852.9 478.6,854.1 C478.0,855.3 477.3,856.6 476.7,857.9 C476.1,859.2 475.5,860.5 475.0,861.8 C474.5,863.1 474.0,864.5 473.5,865.8 C473.0,867.2 472.6,868.6 472.2,870.0 C471.8,871.5 471.4,872.9 471.1,874.4 C470.8,875.9 470.5,877.4 470.2,878.9 C470.0,880.4 469.7,882.8 469.6,883.6 Z" fill="url(#ofg)" />
<clipPath id="bbl"><path d="M284.8,845.3 C285.0,844.1 285.6,840.7 285.9,838.3 C286.2,836.0 286.6,833.6 286.9,831.2 C287.2,828.8 287.5,826.5 287.9,824.1 C288.2,821.7 288.6,819.3 289.0,816.9 C289.3,814.5 289.7,812.2 290.2,809.8 C290.6,807.4 291.1,805.1 291.6,802.7 C292.1,800.4 292.7,798.0 293.3,795.7 C294.0,793.4 294.7,791.1 295.4,788.9 C296.2,786.6 297.0,784.4 297.9,782.1 C298.8,779.9 299.7,777.7 300.7,775.6 C301.7,773.4 302.7,771.3 303.8,769.2 C304.9,767.1 306.1,765.0 307.3,763.0 C308.5,760.9 309.7,758.9 311.0,756.9 C312.3,754.9 313.7,753.0 315.1,751.1 C316.5,749.2 317.9,747.3 319.4,745.5 C320.9,743.7 322.5,741.9 324.0,740.1 C325.6,738.4 327.2,736.7 328.9,735.0 C330.6,733.3 332.3,731.7 334.0,730.1 C335.7,728.5 337.5,727.0 339.3,725.5 C341.2,724.0 343.0,722.5 344.9,721.1 C346.8,719.7 348.7,718.3 350.6,716.9 C352.6,715.6 354.6,714.3 356.6,713.0 C358.6,711.7 360.6,710.5 362.6,709.3 C364.7,708.0 366.8,706.9 368.9,705.7 C371.0,704.6 373.1,703.5 375.3,702.4 C377.4,701.3 379.6,700.2 381.8,699.2 C384.0,698.2 386.2,697.2 388.4,696.2 C390.6,695.2 392.8,694.3 395.1,693.4 C397.3,692.4 399.6,691.5 401.8,690.7 C404.1,689.8 406.4,688.9 408.7,688.1 C411.0,687.3 413.3,686.5 415.6,685.7 C417.9,684.9 420.2,684.1 422.5,683.4 C424.8,682.6 427.1,681.9 429.4,681.2 C431.7,680.5 434.0,679.8 436.3,679.1 C438.6,678.4 440.9,677.7 443.2,677.1 C445.5,676.4 447.8,675.8 450.1,675.1 C452.4,674.5 454.6,673.9 456.9,673.3 C459.2,672.7 461.4,672.1 463.7,671.5 C465.9,670.9 469.2,670.0 470.4,669.7 L470.7,669.5 L475.0,670.5 L477.8,673.0 L476.1,687.2 L474.3,699.6 L473.7,706.7 L474.1,706.6 C473.1,706.8 470.2,707.5 468.3,707.9 C466.3,708.4 464.4,708.9 462.4,709.4 C460.5,709.8 458.5,710.3 456.5,710.8 C454.6,711.3 452.6,711.9 450.7,712.4 C448.7,712.9 446.8,713.5 444.8,714.1 C442.9,714.6 440.9,715.2 439.0,715.8 C437.0,716.4 435.1,717.0 433.1,717.7 C431.2,718.3 429.2,718.9 427.3,719.6 C425.4,720.3 423.4,720.9 421.5,721.6 C419.6,722.3 417.6,723.0 415.7,723.8 C413.8,724.5 411.9,725.3 410.0,726.0 C408.1,726.8 406.2,727.6 404.4,728.4 C402.5,729.2 400.6,730.0 398.7,730.9 C396.9,731.7 395.0,732.6 393.2,733.5 C391.4,734.4 389.5,735.3 387.7,736.2 C385.9,737.2 384.1,738.1 382.3,739.1 C380.5,740.1 378.8,741.1 377.0,742.1 C375.2,743.1 373.5,744.2 371.8,745.2 C370.1,746.3 368.3,747.4 366.7,748.5 C365.0,749.6 363.3,750.8 361.6,751.9 C360.0,753.1 358.3,754.3 356.7,755.5 C355.1,756.7 353.5,758.0 351.9,759.2 C350.4,760.5 348.8,761.8 347.3,763.1 C345.7,764.4 344.2,765.8 342.7,767.2 C341.2,768.5 339.8,769.9 338.3,771.4 C336.9,772.8 335.5,774.2 334.1,775.7 C332.7,777.2 331.3,778.7 330.0,780.3 C328.7,781.8 327.4,783.4 326.1,784.9 C324.9,786.5 323.6,788.1 322.5,789.8 C321.3,791.4 320.1,793.1 319.0,794.7 C317.9,796.4 316.8,798.1 315.8,799.9 C314.7,801.6 313.7,803.3 312.8,805.1 C311.8,806.9 310.9,808.7 310.1,810.5 C309.2,812.3 308.4,814.2 307.7,816.0 C306.9,817.9 306.2,819.8 305.6,821.7 C304.9,823.6 304.3,825.5 303.8,827.4 C303.2,829.4 302.8,831.3 302.3,833.3 C301.9,835.3 301.5,837.3 301.2,839.3 C300.9,841.3 300.6,844.4 300.5,845.4 Z"/></clipPath>
<g clip-path="url(#bbl)"><g opacity="0.999">
<rect x="270" y="620" width="260" height="260" fill="#58C8CC"/>
<path d="M303.4,811.1 C303.8,810.2 304.9,807.6 305.7,805.9 C306.4,804.1 307.3,802.5 308.1,800.8 C308.9,799.1 309.8,797.5 310.7,795.9 C311.6,794.3 312.5,792.7 313.5,791.1 C314.4,789.5 315.4,788.0 316.4,786.4 C317.4,784.9 318.4,783.4 319.5,781.9 C320.5,780.5 321.6,779.0 322.7,777.6 C323.8,776.1 324.9,774.7 326.1,773.3 C327.2,771.9 328.4,770.6 329.6,769.2 C330.8,767.9 332.0,766.5 333.2,765.2 C334.5,763.9 335.7,762.6 337.0,761.4 C338.3,760.1 339.6,758.9 340.9,757.7 C342.2,756.4 343.6,755.2 344.9,754.1 C346.3,752.9 347.7,751.7 349.1,750.6 C350.4,749.4 351.9,748.3 353.3,747.2 C354.7,746.1 356.2,745.0 357.6,744.0 C359.1,742.9 360.6,741.9 362.1,740.9 C363.6,739.8 365.1,738.8 366.6,737.9 C368.1,736.9 369.6,735.9 371.2,735.0 C372.7,734.0 374.3,733.1 375.9,732.2 C377.5,731.3 379.1,730.4 380.7,729.5 C382.3,728.7 383.9,727.8 385.5,727.0 C387.1,726.1 388.8,725.3 390.4,724.5 C392.1,723.7 393.7,723.0 395.4,722.2 C397.1,721.4 398.8,720.7 400.4,720.0 C402.1,719.2 403.8,718.5 405.5,717.8 C407.2,717.2 408.9,716.5 410.7,715.8 C412.4,715.2 414.1,714.5 415.8,713.9 C417.6,713.3 419.3,712.7 421.0,712.1 C422.8,711.5 424.5,710.9 426.3,710.4 C428.0,709.8 429.8,709.3 431.6,708.7 C433.3,708.2 435.1,707.7 436.9,707.2 C438.6,706.7 440.4,706.2 442.2,705.8 C443.9,705.3 445.7,704.9 447.5,704.4 C449.3,704.0 451.0,703.6 452.8,703.2 C454.6,702.8 456.4,702.4 458.1,702.0 C459.9,701.6 461.7,701.3 463.5,700.9 C465.2,700.6 467.0,700.3 468.8,699.9 C470.6,699.6 471.6,699.5 474.1,699.0 C476.6,698.6 482.3,697.6 484.0,697.4 L484.0,620.0 L270.0,620.0 L270.0,811.1 Z" fill="#3470C4" />
<path d="M301.9,809.9 C302.1,808.9 302.8,805.8 303.4,803.9 C303.9,801.9 304.5,800.0 305.2,798.1 C305.8,796.2 306.5,794.3 307.2,792.5 C307.9,790.7 308.7,788.9 309.5,787.1 C310.3,785.3 311.1,783.6 312.0,781.9 C312.9,780.2 313.8,778.5 314.7,776.9 C315.7,775.2 316.7,773.6 317.7,772.0 C318.7,770.4 319.8,768.8 320.9,767.3 C322.0,765.8 323.1,764.3 324.2,762.8 C325.4,761.3 326.6,759.9 327.8,758.4 C329.0,757.0 330.3,755.6 331.5,754.3 C332.8,752.9 334.1,751.5 335.5,750.2 C336.8,748.9 338.2,747.6 339.5,746.3 C340.9,745.1 342.4,743.8 343.8,742.6 C345.2,741.4 346.7,740.2 348.2,739.0 C349.7,737.9 351.2,736.7 352.7,735.6 C354.3,734.5 355.8,733.4 357.4,732.3 C359.0,731.2 360.6,730.2 362.2,729.1 C363.8,728.1 365.4,727.1 367.1,726.1 C368.7,725.1 370.4,724.1 372.1,723.2 C373.8,722.2 375.5,721.3 377.2,720.4 C378.9,719.5 380.6,718.6 382.4,717.7 C384.1,716.9 385.9,716.0 387.7,715.2 C389.4,714.3 391.2,713.5 393.0,712.7 C394.8,711.9 396.6,711.2 398.4,710.4 C400.2,709.6 402.0,708.9 403.9,708.2 C405.7,707.4 407.5,706.7 409.4,706.0 C411.2,705.3 413.1,704.7 414.9,704.0 C416.8,703.3 418.7,702.7 420.5,702.0 C422.4,701.4 424.2,700.8 426.1,700.2 C428.0,699.6 429.8,699.0 431.7,698.4 C433.6,697.8 435.5,697.3 437.3,696.7 C439.2,696.2 441.1,695.6 442.9,695.1 C444.8,694.6 446.7,694.0 448.5,693.5 C450.4,693.0 452.2,692.5 454.1,692.1 C455.9,691.6 457.8,691.1 459.6,690.6 C461.5,690.2 463.3,689.7 465.1,689.3 C467.0,688.8 468.8,688.4 470.6,688.0 C472.4,687.6 473.4,687.3 476.0,686.7 C478.5,686.2 484.1,684.9 485.7,684.5 L485.7,620.0 L270.0,620.0 L270.0,809.9 Z" fill="#2C3C9C" />
<linearGradient id="bbg" gradientUnits="userSpaceOnUse" x1="400" y1="700" x2="300" y2="800"><stop offset="0" stop-color="#003030" stop-opacity="0"/><stop offset="1" stop-color="#003030" stop-opacity="0.16"/></linearGradient>
<rect x="270" y="620" width="260" height="260" fill="url(#bbg)"/>
</g></g>
<clipPath id="bls"><path d="M295.4,790.0 C294.9,791.9 293.4,797.5 292.6,801.3 C291.8,805.1 291.1,808.9 290.4,812.7 C289.7,816.5 289.0,820.2 288.3,824.0 C287.6,827.8 286.8,831.9 286.2,835.4 C285.6,838.9 285.0,843.6 284.8,845.3 L284.8,845.3 C285.2,845.8 285.6,847.5 287.0,848.0 C288.4,848.5 291.1,848.6 293.0,848.6 C294.9,848.6 297.3,848.3 298.5,847.8 C299.7,847.2 300.1,845.7 300.4,845.3 L300.4,845.3 C300.3,843.6 299.6,838.9 299.6,835.4 C299.6,831.9 300.0,827.8 300.4,824.0 C300.8,820.2 301.2,816.5 301.8,812.7 C302.4,808.9 303.1,805.1 303.9,801.3 C304.7,797.5 306.2,791.9 306.7,790.0 Z"/></clipPath>
<g clip-path="url(#bls)"><g opacity="0.999">
<rect x="270" y="780.0" width="60" height="28.4" fill="#2C3C9C"/>
<rect x="270" y="808.4" width="60" height="13.5" fill="#3848A8"/>
<rect x="270" y="821.9" width="60" height="13.5" fill="#5090D8"/>
<rect x="270" y="835.4" width="60" height="14.6" fill="#70D0DC"/>
</g></g>
<rect x="275.0" y="38.00" width="12.4" height="43.28" fill="#ED1C24"/>
<rect x="275.0" y="79.78" width="12.4" height="43.28" fill="#F58A14"/>
<rect x="275.0" y="121.56" width="12.4" height="43.28" fill="#EFEF0A"/>
<rect x="275.0" y="163.34" width="12.4" height="43.28" fill="#96D020"/>
<rect x="275.0" y="205.12" width="12.4" height="43.28" fill="#5FC035"/>
<rect x="275.0" y="246.90" width="12.4" height="43.28" fill="#5FC035"/>
<rect x="275.0" y="288.68" width="12.4" height="43.28" fill="#6CC87C"/>
<rect x="275.0" y="330.46" width="12.4" height="43.28" fill="#7AD2DA"/>
<rect x="275.0" y="372.24" width="12.4" height="43.28" fill="#4D88D0"/>
<rect x="275.0" y="414.02" width="12.4" height="41.78" fill="#3348A8"/>
<text x="293.3" y="43.2" class="lb">2e+5</text>
<text x="293.3" y="80.0" class="lb">1.8e+5</text>
<text x="293.3" y="121.8" class="lb">1.6e+5</text>
<text x="293.3" y="163.5" class="lb">1.4e+5</text>
<text x="293.3" y="205.3" class="lb">1.2e+5</text>
<text x="293.3" y="247.1" class="lb">1e+5</text>
<text x="293.3" y="288.9" class="lb">8.02e+4</text>
<text x="293.3" y="330.7" class="lb">6.01e+4</text>
<text x="293.3" y="372.4" class="lb">4.01e+4</text>
<text x="293.3" y="414.2" class="lb">2e+4</text>
<text x="293.3" y="456.0" class="lb">0.0352</text>
<text x="275.4" y="11.7" class="tt">Pressure</text>
<text x="275.4" y="497.8" class="lb">Time : 21 s.</text>
<rect x="33.0" y="560.30" width="12.4" height="43.28" fill="#ED1C24"/>
<rect x="33.0" y="602.08" width="12.4" height="43.28" fill="#F58A14"/>
<rect x="33.0" y="643.86" width="12.4" height="43.28" fill="#EFEF0A"/>
<rect x="33.0" y="685.64" width="12.4" height="43.28" fill="#96D020"/>
<rect x="33.0" y="727.42" width="12.4" height="43.28" fill="#5FC035"/>
<rect x="33.0" y="769.20" width="12.4" height="43.28" fill="#5FC035"/>
<rect x="33.0" y="810.98" width="12.4" height="43.28" fill="#6CC87C"/>
<rect x="33.0" y="852.76" width="12.4" height="43.28" fill="#7AD2DA"/>
<rect x="33.0" y="894.54" width="12.4" height="43.28" fill="#4D88D0"/>
<rect x="33.0" y="936.32" width="12.4" height="41.78" fill="#3348A8"/>
<text x="51.3" y="566.1" class="lb">2.03e+5</text>
<text x="51.3" y="602.9" class="lb">1.82e+5</text>
<text x="51.3" y="644.7" class="lb">1.62e+5</text>
<text x="51.3" y="686.4" class="lb">1.42e+5</text>
<text x="51.3" y="728.2" class="lb">1.22e+5</text>
<text x="51.3" y="770.0" class="lb">1.01e+5</text>
<text x="51.3" y="811.8" class="lb">8.11e+4</text>
<text x="51.3" y="853.6" class="lb">6.08e+4</text>
<text x="51.3" y="895.3" class="lb">4.05e+4</text>
<text x="51.3" y="937.1" class="lb">2.03e+4</text>
<text x="51.3" y="978.9" class="lb">0.914</text>
<text x="33.8" y="534.6" class="tt">Pressure</text>
<text x="33.5" y="1021.0" class="lb">Time : 20 s.</text>
<text x="33.7" y="244.2" class="cap" textLength="180.3" lengthAdjust="spacingAndGlyphs">Pressure field for a</text>
<text x="33.7" y="271.2" class="cap" textLength="174.9" lengthAdjust="spacingAndGlyphs">surface simulation</text>
<text x="604.3" y="642.2" class="cap" textLength="180.3" lengthAdjust="spacingAndGlyphs">Pressure field for a</text>
<text x="604.3" y="669.6" class="cap" textLength="135.9" lengthAdjust="spacingAndGlyphs">3D simulation</text>
</g>
</svg>
</body></html>
